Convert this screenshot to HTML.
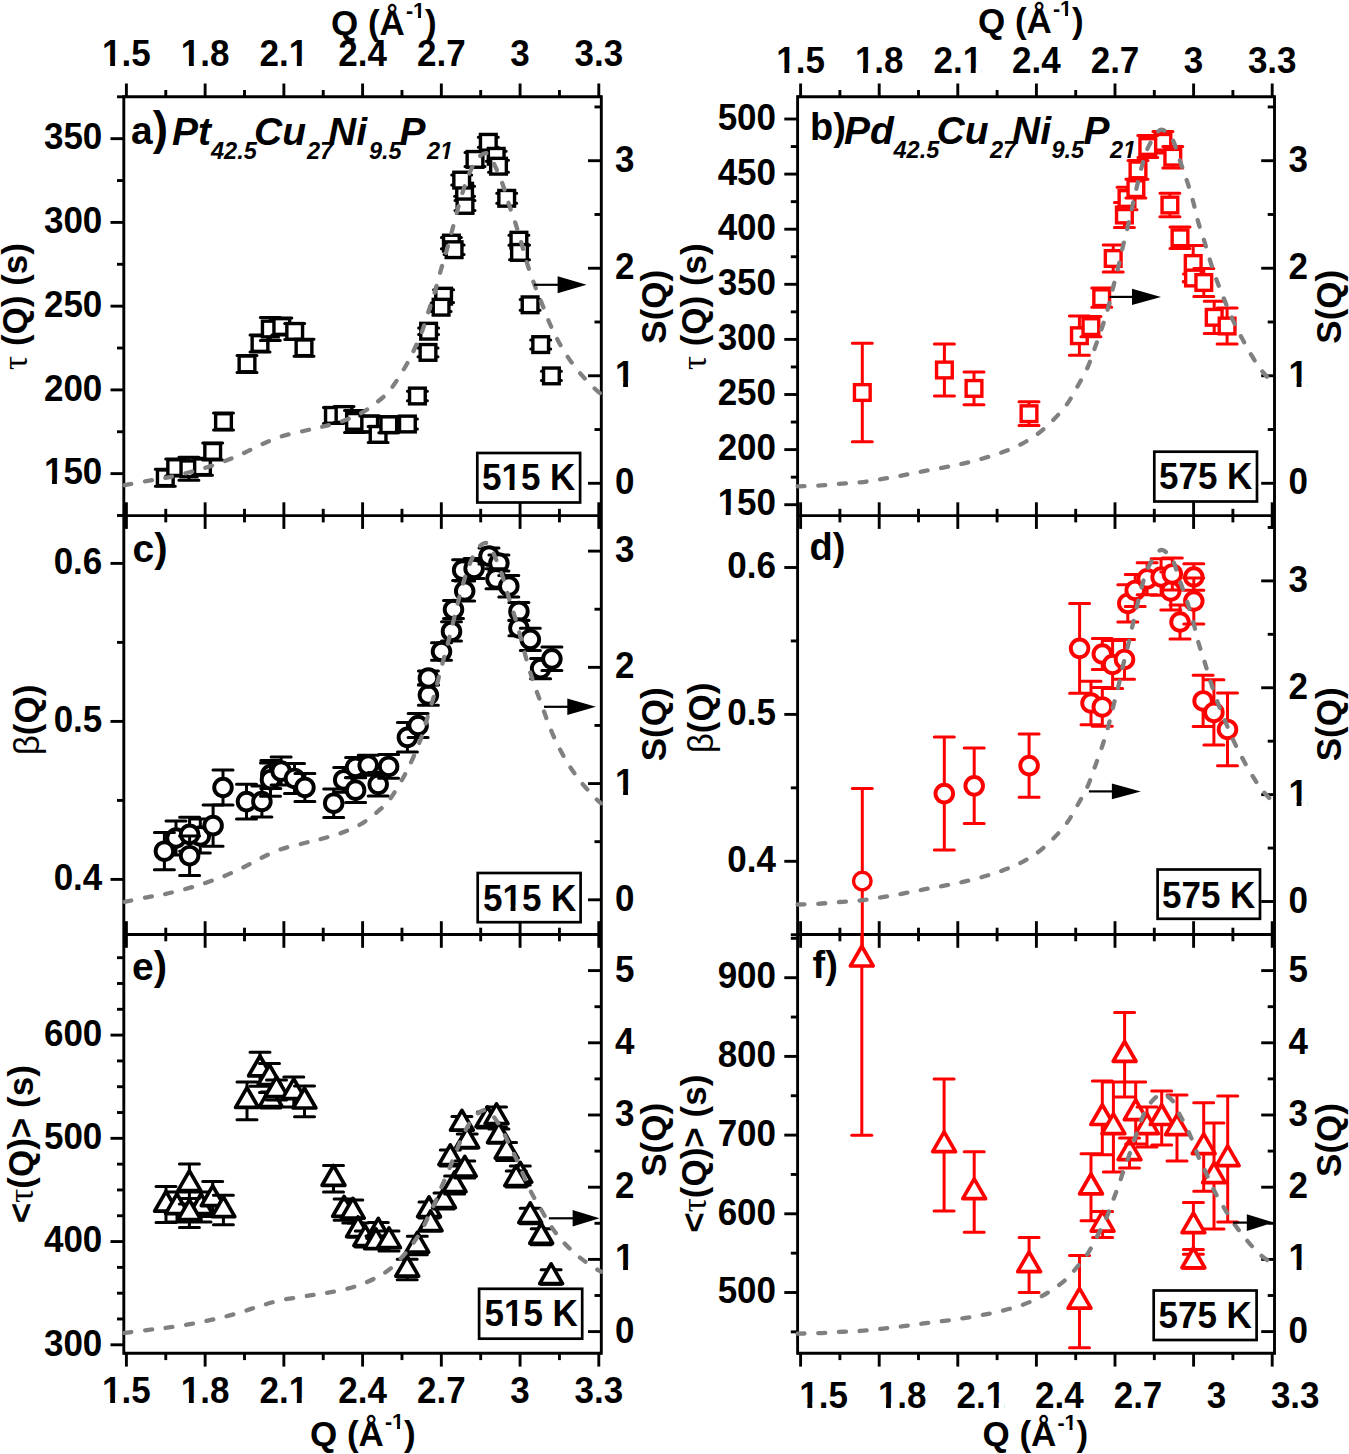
<!DOCTYPE html>
<html><head><meta charset="utf-8"><style>
html,body{margin:0;padding:0;background:#fff;}
svg{display:block;}
text{font-family:"Liberation Sans", sans-serif;fill:#000;}
</style></head><body>
<svg width="1349" height="1454" viewBox="0 0 1349 1454">
<rect x="0" y="0" width="1349" height="1454" fill="#fff"/>
<line x1="123.80" y1="95.35" x2="123.80" y2="1354.75" stroke="#000" stroke-width="2.9"/>
<line x1="601.30" y1="95.35" x2="601.30" y2="1354.75" stroke="#000" stroke-width="2.9"/>
<line x1="123.80" y1="96.80" x2="601.30" y2="96.80" stroke="#000" stroke-width="2.9"/>
<line x1="126.40" y1="83.50" x2="126.40" y2="96.80" stroke="#000" stroke-width="2.9"/>
<line x1="205.13" y1="83.50" x2="205.13" y2="96.80" stroke="#000" stroke-width="2.9"/>
<line x1="283.87" y1="83.50" x2="283.87" y2="96.80" stroke="#000" stroke-width="2.9"/>
<line x1="362.60" y1="83.50" x2="362.60" y2="96.80" stroke="#000" stroke-width="2.9"/>
<line x1="441.33" y1="83.50" x2="441.33" y2="96.80" stroke="#000" stroke-width="2.9"/>
<line x1="520.07" y1="83.50" x2="520.07" y2="96.80" stroke="#000" stroke-width="2.9"/>
<line x1="598.80" y1="83.50" x2="598.80" y2="96.80" stroke="#000" stroke-width="2.9"/>
<line x1="165.77" y1="90.00" x2="165.77" y2="96.80" stroke="#000" stroke-width="2.9"/>
<line x1="244.50" y1="90.00" x2="244.50" y2="96.80" stroke="#000" stroke-width="2.9"/>
<line x1="323.23" y1="90.00" x2="323.23" y2="96.80" stroke="#000" stroke-width="2.9"/>
<line x1="401.97" y1="90.00" x2="401.97" y2="96.80" stroke="#000" stroke-width="2.9"/>
<line x1="480.70" y1="90.00" x2="480.70" y2="96.80" stroke="#000" stroke-width="2.9"/>
<line x1="559.43" y1="90.00" x2="559.43" y2="96.80" stroke="#000" stroke-width="2.9"/>
<line x1="123.80" y1="515.60" x2="601.30" y2="515.60" stroke="#000" stroke-width="2.9"/>
<line x1="126.40" y1="502.30" x2="126.40" y2="528.90" stroke="#000" stroke-width="2.9"/>
<line x1="205.13" y1="502.30" x2="205.13" y2="528.90" stroke="#000" stroke-width="2.9"/>
<line x1="283.87" y1="502.30" x2="283.87" y2="528.90" stroke="#000" stroke-width="2.9"/>
<line x1="362.60" y1="502.30" x2="362.60" y2="528.90" stroke="#000" stroke-width="2.9"/>
<line x1="441.33" y1="502.30" x2="441.33" y2="528.90" stroke="#000" stroke-width="2.9"/>
<line x1="520.07" y1="502.30" x2="520.07" y2="528.90" stroke="#000" stroke-width="2.9"/>
<line x1="598.80" y1="502.30" x2="598.80" y2="528.90" stroke="#000" stroke-width="2.9"/>
<line x1="165.77" y1="508.80" x2="165.77" y2="522.40" stroke="#000" stroke-width="2.9"/>
<line x1="244.50" y1="508.80" x2="244.50" y2="522.40" stroke="#000" stroke-width="2.9"/>
<line x1="323.23" y1="508.80" x2="323.23" y2="522.40" stroke="#000" stroke-width="2.9"/>
<line x1="401.97" y1="508.80" x2="401.97" y2="522.40" stroke="#000" stroke-width="2.9"/>
<line x1="480.70" y1="508.80" x2="480.70" y2="522.40" stroke="#000" stroke-width="2.9"/>
<line x1="559.43" y1="508.80" x2="559.43" y2="522.40" stroke="#000" stroke-width="2.9"/>
<line x1="123.80" y1="934.50" x2="601.30" y2="934.50" stroke="#000" stroke-width="2.9"/>
<line x1="126.40" y1="921.20" x2="126.40" y2="947.80" stroke="#000" stroke-width="2.9"/>
<line x1="205.13" y1="921.20" x2="205.13" y2="947.80" stroke="#000" stroke-width="2.9"/>
<line x1="283.87" y1="921.20" x2="283.87" y2="947.80" stroke="#000" stroke-width="2.9"/>
<line x1="362.60" y1="921.20" x2="362.60" y2="947.80" stroke="#000" stroke-width="2.9"/>
<line x1="441.33" y1="921.20" x2="441.33" y2="947.80" stroke="#000" stroke-width="2.9"/>
<line x1="520.07" y1="921.20" x2="520.07" y2="947.80" stroke="#000" stroke-width="2.9"/>
<line x1="598.80" y1="921.20" x2="598.80" y2="947.80" stroke="#000" stroke-width="2.9"/>
<line x1="165.77" y1="927.70" x2="165.77" y2="941.30" stroke="#000" stroke-width="2.9"/>
<line x1="244.50" y1="927.70" x2="244.50" y2="941.30" stroke="#000" stroke-width="2.9"/>
<line x1="323.23" y1="927.70" x2="323.23" y2="941.30" stroke="#000" stroke-width="2.9"/>
<line x1="401.97" y1="927.70" x2="401.97" y2="941.30" stroke="#000" stroke-width="2.9"/>
<line x1="480.70" y1="927.70" x2="480.70" y2="941.30" stroke="#000" stroke-width="2.9"/>
<line x1="559.43" y1="927.70" x2="559.43" y2="941.30" stroke="#000" stroke-width="2.9"/>
<line x1="123.80" y1="1353.30" x2="601.30" y2="1353.30" stroke="#000" stroke-width="2.9"/>
<line x1="126.40" y1="1353.30" x2="126.40" y2="1366.60" stroke="#000" stroke-width="2.9"/>
<line x1="205.13" y1="1353.30" x2="205.13" y2="1366.60" stroke="#000" stroke-width="2.9"/>
<line x1="283.87" y1="1353.30" x2="283.87" y2="1366.60" stroke="#000" stroke-width="2.9"/>
<line x1="362.60" y1="1353.30" x2="362.60" y2="1366.60" stroke="#000" stroke-width="2.9"/>
<line x1="441.33" y1="1353.30" x2="441.33" y2="1366.60" stroke="#000" stroke-width="2.9"/>
<line x1="520.07" y1="1353.30" x2="520.07" y2="1366.60" stroke="#000" stroke-width="2.9"/>
<line x1="598.80" y1="1353.30" x2="598.80" y2="1366.60" stroke="#000" stroke-width="2.9"/>
<line x1="165.77" y1="1353.30" x2="165.77" y2="1360.10" stroke="#000" stroke-width="2.9"/>
<line x1="244.50" y1="1353.30" x2="244.50" y2="1360.10" stroke="#000" stroke-width="2.9"/>
<line x1="323.23" y1="1353.30" x2="323.23" y2="1360.10" stroke="#000" stroke-width="2.9"/>
<line x1="401.97" y1="1353.30" x2="401.97" y2="1360.10" stroke="#000" stroke-width="2.9"/>
<line x1="480.70" y1="1353.30" x2="480.70" y2="1360.10" stroke="#000" stroke-width="2.9"/>
<line x1="559.43" y1="1353.30" x2="559.43" y2="1360.10" stroke="#000" stroke-width="2.9"/>
<line x1="797.60" y1="95.35" x2="797.60" y2="1354.75" stroke="#000" stroke-width="2.9"/>
<line x1="1274.50" y1="95.35" x2="1274.50" y2="1354.75" stroke="#000" stroke-width="2.9"/>
<line x1="797.60" y1="96.80" x2="1274.50" y2="96.80" stroke="#000" stroke-width="2.9"/>
<line x1="800.60" y1="83.50" x2="800.60" y2="96.80" stroke="#000" stroke-width="2.9"/>
<line x1="879.20" y1="83.50" x2="879.20" y2="96.80" stroke="#000" stroke-width="2.9"/>
<line x1="957.80" y1="83.50" x2="957.80" y2="96.80" stroke="#000" stroke-width="2.9"/>
<line x1="1036.40" y1="83.50" x2="1036.40" y2="96.80" stroke="#000" stroke-width="2.9"/>
<line x1="1115.00" y1="83.50" x2="1115.00" y2="96.80" stroke="#000" stroke-width="2.9"/>
<line x1="1193.60" y1="83.50" x2="1193.60" y2="96.80" stroke="#000" stroke-width="2.9"/>
<line x1="1272.20" y1="83.50" x2="1272.20" y2="96.80" stroke="#000" stroke-width="2.9"/>
<line x1="839.90" y1="90.00" x2="839.90" y2="96.80" stroke="#000" stroke-width="2.9"/>
<line x1="918.50" y1="90.00" x2="918.50" y2="96.80" stroke="#000" stroke-width="2.9"/>
<line x1="997.10" y1="90.00" x2="997.10" y2="96.80" stroke="#000" stroke-width="2.9"/>
<line x1="1075.70" y1="90.00" x2="1075.70" y2="96.80" stroke="#000" stroke-width="2.9"/>
<line x1="1154.30" y1="90.00" x2="1154.30" y2="96.80" stroke="#000" stroke-width="2.9"/>
<line x1="1232.90" y1="90.00" x2="1232.90" y2="96.80" stroke="#000" stroke-width="2.9"/>
<line x1="797.60" y1="515.60" x2="1274.50" y2="515.60" stroke="#000" stroke-width="2.9"/>
<line x1="800.60" y1="502.30" x2="800.60" y2="528.90" stroke="#000" stroke-width="2.9"/>
<line x1="879.20" y1="502.30" x2="879.20" y2="528.90" stroke="#000" stroke-width="2.9"/>
<line x1="957.80" y1="502.30" x2="957.80" y2="528.90" stroke="#000" stroke-width="2.9"/>
<line x1="1036.40" y1="502.30" x2="1036.40" y2="528.90" stroke="#000" stroke-width="2.9"/>
<line x1="1115.00" y1="502.30" x2="1115.00" y2="528.90" stroke="#000" stroke-width="2.9"/>
<line x1="1193.60" y1="502.30" x2="1193.60" y2="528.90" stroke="#000" stroke-width="2.9"/>
<line x1="1272.20" y1="502.30" x2="1272.20" y2="528.90" stroke="#000" stroke-width="2.9"/>
<line x1="839.90" y1="508.80" x2="839.90" y2="522.40" stroke="#000" stroke-width="2.9"/>
<line x1="918.50" y1="508.80" x2="918.50" y2="522.40" stroke="#000" stroke-width="2.9"/>
<line x1="997.10" y1="508.80" x2="997.10" y2="522.40" stroke="#000" stroke-width="2.9"/>
<line x1="1075.70" y1="508.80" x2="1075.70" y2="522.40" stroke="#000" stroke-width="2.9"/>
<line x1="1154.30" y1="508.80" x2="1154.30" y2="522.40" stroke="#000" stroke-width="2.9"/>
<line x1="1232.90" y1="508.80" x2="1232.90" y2="522.40" stroke="#000" stroke-width="2.9"/>
<line x1="797.60" y1="934.50" x2="1274.50" y2="934.50" stroke="#000" stroke-width="2.9"/>
<line x1="800.60" y1="921.20" x2="800.60" y2="947.80" stroke="#000" stroke-width="2.9"/>
<line x1="879.20" y1="921.20" x2="879.20" y2="947.80" stroke="#000" stroke-width="2.9"/>
<line x1="957.80" y1="921.20" x2="957.80" y2="947.80" stroke="#000" stroke-width="2.9"/>
<line x1="1036.40" y1="921.20" x2="1036.40" y2="947.80" stroke="#000" stroke-width="2.9"/>
<line x1="1115.00" y1="921.20" x2="1115.00" y2="947.80" stroke="#000" stroke-width="2.9"/>
<line x1="1193.60" y1="921.20" x2="1193.60" y2="947.80" stroke="#000" stroke-width="2.9"/>
<line x1="1272.20" y1="921.20" x2="1272.20" y2="947.80" stroke="#000" stroke-width="2.9"/>
<line x1="839.90" y1="927.70" x2="839.90" y2="941.30" stroke="#000" stroke-width="2.9"/>
<line x1="918.50" y1="927.70" x2="918.50" y2="941.30" stroke="#000" stroke-width="2.9"/>
<line x1="997.10" y1="927.70" x2="997.10" y2="941.30" stroke="#000" stroke-width="2.9"/>
<line x1="1075.70" y1="927.70" x2="1075.70" y2="941.30" stroke="#000" stroke-width="2.9"/>
<line x1="1154.30" y1="927.70" x2="1154.30" y2="941.30" stroke="#000" stroke-width="2.9"/>
<line x1="1232.90" y1="927.70" x2="1232.90" y2="941.30" stroke="#000" stroke-width="2.9"/>
<line x1="797.60" y1="1353.30" x2="1274.50" y2="1353.30" stroke="#000" stroke-width="2.9"/>
<line x1="800.60" y1="1353.30" x2="800.60" y2="1366.60" stroke="#000" stroke-width="2.9"/>
<line x1="879.20" y1="1353.30" x2="879.20" y2="1366.60" stroke="#000" stroke-width="2.9"/>
<line x1="957.80" y1="1353.30" x2="957.80" y2="1366.60" stroke="#000" stroke-width="2.9"/>
<line x1="1036.40" y1="1353.30" x2="1036.40" y2="1366.60" stroke="#000" stroke-width="2.9"/>
<line x1="1115.00" y1="1353.30" x2="1115.00" y2="1366.60" stroke="#000" stroke-width="2.9"/>
<line x1="1193.60" y1="1353.30" x2="1193.60" y2="1366.60" stroke="#000" stroke-width="2.9"/>
<line x1="1272.20" y1="1353.30" x2="1272.20" y2="1366.60" stroke="#000" stroke-width="2.9"/>
<line x1="839.90" y1="1353.30" x2="839.90" y2="1360.10" stroke="#000" stroke-width="2.9"/>
<line x1="918.50" y1="1353.30" x2="918.50" y2="1360.10" stroke="#000" stroke-width="2.9"/>
<line x1="997.10" y1="1353.30" x2="997.10" y2="1360.10" stroke="#000" stroke-width="2.9"/>
<line x1="1075.70" y1="1353.30" x2="1075.70" y2="1360.10" stroke="#000" stroke-width="2.9"/>
<line x1="1154.30" y1="1353.30" x2="1154.30" y2="1360.10" stroke="#000" stroke-width="2.9"/>
<line x1="1232.90" y1="1353.30" x2="1232.90" y2="1360.10" stroke="#000" stroke-width="2.9"/>
<line x1="117.00" y1="515.50" x2="123.80" y2="515.50" stroke="#000" stroke-width="2.9"/>
<line x1="110.50" y1="473.63" x2="123.80" y2="473.63" stroke="#000" stroke-width="2.9"/>
<line x1="117.00" y1="431.76" x2="123.80" y2="431.76" stroke="#000" stroke-width="2.9"/>
<line x1="110.50" y1="389.89" x2="123.80" y2="389.89" stroke="#000" stroke-width="2.9"/>
<line x1="117.00" y1="348.02" x2="123.80" y2="348.02" stroke="#000" stroke-width="2.9"/>
<line x1="110.50" y1="306.15" x2="123.80" y2="306.15" stroke="#000" stroke-width="2.9"/>
<line x1="117.00" y1="264.28" x2="123.80" y2="264.28" stroke="#000" stroke-width="2.9"/>
<line x1="110.50" y1="222.41" x2="123.80" y2="222.41" stroke="#000" stroke-width="2.9"/>
<line x1="117.00" y1="180.54" x2="123.80" y2="180.54" stroke="#000" stroke-width="2.9"/>
<line x1="110.50" y1="138.67" x2="123.80" y2="138.67" stroke="#000" stroke-width="2.9"/>
<line x1="117.00" y1="96.80" x2="123.80" y2="96.80" stroke="#000" stroke-width="2.9"/>
<text transform="translate(102.30,484.33) scale(1,1.04)" font-size="35" font-weight="bold" text-anchor="end" >150</text>
<rect x="44.78" y="479.39" width="7.25" height="6.04" fill="#fff"/>
<rect x="56.89" y="479.39" width="6.09" height="6.04" fill="#fff"/>
<text transform="translate(102.30,400.59) scale(1,1.04)" font-size="35" font-weight="bold" text-anchor="end" >200</text>
<text transform="translate(102.30,316.85) scale(1,1.04)" font-size="35" font-weight="bold" text-anchor="end" >250</text>
<text transform="translate(102.30,233.11) scale(1,1.04)" font-size="35" font-weight="bold" text-anchor="end" >300</text>
<text transform="translate(102.30,149.37) scale(1,1.04)" font-size="35" font-weight="bold" text-anchor="end" >350</text>
<line x1="588.00" y1="483.30" x2="601.30" y2="483.30" stroke="#000" stroke-width="2.9"/>
<line x1="594.50" y1="429.54" x2="601.30" y2="429.54" stroke="#000" stroke-width="2.9"/>
<line x1="588.00" y1="375.77" x2="601.30" y2="375.77" stroke="#000" stroke-width="2.9"/>
<line x1="594.50" y1="322.00" x2="601.30" y2="322.00" stroke="#000" stroke-width="2.9"/>
<line x1="588.00" y1="268.24" x2="601.30" y2="268.24" stroke="#000" stroke-width="2.9"/>
<line x1="594.50" y1="214.48" x2="601.30" y2="214.48" stroke="#000" stroke-width="2.9"/>
<line x1="588.00" y1="160.71" x2="601.30" y2="160.71" stroke="#000" stroke-width="2.9"/>
<line x1="594.50" y1="106.94" x2="601.30" y2="106.94" stroke="#000" stroke-width="2.9"/>
<text transform="translate(615.00,494.30) scale(1,1.04)" font-size="35" font-weight="bold" text-anchor="start" >0</text>
<text transform="translate(615.00,386.77) scale(1,1.04)" font-size="35" font-weight="bold" text-anchor="start" >1</text>
<rect x="615.88" y="381.83" width="7.25" height="6.04" fill="#fff"/>
<rect x="627.99" y="381.83" width="6.09" height="6.04" fill="#fff"/>
<text transform="translate(615.00,279.24) scale(1,1.04)" font-size="35" font-weight="bold" text-anchor="start" >2</text>
<text transform="translate(615.00,171.71) scale(1,1.04)" font-size="35" font-weight="bold" text-anchor="start" >3</text>
<line x1="784.30" y1="504.70" x2="797.60" y2="504.70" stroke="#000" stroke-width="2.9"/>
<line x1="790.80" y1="477.15" x2="797.60" y2="477.15" stroke="#000" stroke-width="2.9"/>
<line x1="784.30" y1="449.60" x2="797.60" y2="449.60" stroke="#000" stroke-width="2.9"/>
<line x1="790.80" y1="422.05" x2="797.60" y2="422.05" stroke="#000" stroke-width="2.9"/>
<line x1="784.30" y1="394.50" x2="797.60" y2="394.50" stroke="#000" stroke-width="2.9"/>
<line x1="790.80" y1="366.95" x2="797.60" y2="366.95" stroke="#000" stroke-width="2.9"/>
<line x1="784.30" y1="339.40" x2="797.60" y2="339.40" stroke="#000" stroke-width="2.9"/>
<line x1="790.80" y1="311.85" x2="797.60" y2="311.85" stroke="#000" stroke-width="2.9"/>
<line x1="784.30" y1="284.30" x2="797.60" y2="284.30" stroke="#000" stroke-width="2.9"/>
<line x1="790.80" y1="256.75" x2="797.60" y2="256.75" stroke="#000" stroke-width="2.9"/>
<line x1="784.30" y1="229.20" x2="797.60" y2="229.20" stroke="#000" stroke-width="2.9"/>
<line x1="790.80" y1="201.65" x2="797.60" y2="201.65" stroke="#000" stroke-width="2.9"/>
<line x1="784.30" y1="174.10" x2="797.60" y2="174.10" stroke="#000" stroke-width="2.9"/>
<line x1="790.80" y1="146.55" x2="797.60" y2="146.55" stroke="#000" stroke-width="2.9"/>
<line x1="784.30" y1="119.00" x2="797.60" y2="119.00" stroke="#000" stroke-width="2.9"/>
<text transform="translate(776.00,515.40) scale(1,1.04)" font-size="35" font-weight="bold" text-anchor="end" >150</text>
<rect x="718.48" y="510.46" width="7.25" height="6.04" fill="#fff"/>
<rect x="730.59" y="510.46" width="6.09" height="6.04" fill="#fff"/>
<text transform="translate(776.00,460.30) scale(1,1.04)" font-size="35" font-weight="bold" text-anchor="end" >200</text>
<text transform="translate(776.00,405.20) scale(1,1.04)" font-size="35" font-weight="bold" text-anchor="end" >250</text>
<text transform="translate(776.00,350.10) scale(1,1.04)" font-size="35" font-weight="bold" text-anchor="end" >300</text>
<text transform="translate(776.00,295.00) scale(1,1.04)" font-size="35" font-weight="bold" text-anchor="end" >350</text>
<text transform="translate(776.00,239.90) scale(1,1.04)" font-size="35" font-weight="bold" text-anchor="end" >400</text>
<text transform="translate(776.00,184.80) scale(1,1.04)" font-size="35" font-weight="bold" text-anchor="end" >450</text>
<text transform="translate(776.00,129.70) scale(1,1.04)" font-size="35" font-weight="bold" text-anchor="end" >500</text>
<line x1="1261.20" y1="483.30" x2="1274.50" y2="483.30" stroke="#000" stroke-width="2.9"/>
<line x1="1267.70" y1="429.54" x2="1274.50" y2="429.54" stroke="#000" stroke-width="2.9"/>
<line x1="1261.20" y1="375.77" x2="1274.50" y2="375.77" stroke="#000" stroke-width="2.9"/>
<line x1="1267.70" y1="322.00" x2="1274.50" y2="322.00" stroke="#000" stroke-width="2.9"/>
<line x1="1261.20" y1="268.24" x2="1274.50" y2="268.24" stroke="#000" stroke-width="2.9"/>
<line x1="1267.70" y1="214.48" x2="1274.50" y2="214.48" stroke="#000" stroke-width="2.9"/>
<line x1="1261.20" y1="160.71" x2="1274.50" y2="160.71" stroke="#000" stroke-width="2.9"/>
<line x1="1267.70" y1="106.94" x2="1274.50" y2="106.94" stroke="#000" stroke-width="2.9"/>
<text transform="translate(1288.50,494.30) scale(1,1.04)" font-size="35" font-weight="bold" text-anchor="start" >0</text>
<text transform="translate(1288.50,386.77) scale(1,1.04)" font-size="35" font-weight="bold" text-anchor="start" >1</text>
<rect x="1289.38" y="381.83" width="7.25" height="6.04" fill="#fff"/>
<rect x="1301.48" y="381.83" width="6.09" height="6.04" fill="#fff"/>
<text transform="translate(1288.50,279.24) scale(1,1.04)" font-size="35" font-weight="bold" text-anchor="start" >2</text>
<text transform="translate(1288.50,171.71) scale(1,1.04)" font-size="35" font-weight="bold" text-anchor="start" >3</text>
<line x1="110.50" y1="879.40" x2="123.80" y2="879.40" stroke="#000" stroke-width="2.9"/>
<line x1="117.00" y1="800.40" x2="123.80" y2="800.40" stroke="#000" stroke-width="2.9"/>
<line x1="110.50" y1="721.40" x2="123.80" y2="721.40" stroke="#000" stroke-width="2.9"/>
<line x1="117.00" y1="642.40" x2="123.80" y2="642.40" stroke="#000" stroke-width="2.9"/>
<line x1="110.50" y1="563.40" x2="123.80" y2="563.40" stroke="#000" stroke-width="2.9"/>
<text transform="translate(102.30,890.10) scale(1,1.04)" font-size="35" font-weight="bold" text-anchor="end" >0.4</text>
<text transform="translate(102.30,732.10) scale(1,1.04)" font-size="35" font-weight="bold" text-anchor="end" >0.5</text>
<text transform="translate(102.30,574.10) scale(1,1.04)" font-size="35" font-weight="bold" text-anchor="end" >0.6</text>
<line x1="588.00" y1="899.80" x2="601.30" y2="899.80" stroke="#000" stroke-width="2.9"/>
<line x1="594.50" y1="841.68" x2="601.30" y2="841.68" stroke="#000" stroke-width="2.9"/>
<line x1="588.00" y1="783.57" x2="601.30" y2="783.57" stroke="#000" stroke-width="2.9"/>
<line x1="594.50" y1="725.45" x2="601.30" y2="725.45" stroke="#000" stroke-width="2.9"/>
<line x1="588.00" y1="667.34" x2="601.30" y2="667.34" stroke="#000" stroke-width="2.9"/>
<line x1="594.50" y1="609.22" x2="601.30" y2="609.22" stroke="#000" stroke-width="2.9"/>
<line x1="588.00" y1="551.11" x2="601.30" y2="551.11" stroke="#000" stroke-width="2.9"/>
<text transform="translate(615.00,910.80) scale(1,1.04)" font-size="35" font-weight="bold" text-anchor="start" >0</text>
<text transform="translate(615.00,794.57) scale(1,1.04)" font-size="35" font-weight="bold" text-anchor="start" >1</text>
<rect x="615.88" y="789.63" width="7.25" height="6.04" fill="#fff"/>
<rect x="627.99" y="789.63" width="6.09" height="6.04" fill="#fff"/>
<text transform="translate(615.00,678.34) scale(1,1.04)" font-size="35" font-weight="bold" text-anchor="start" >2</text>
<text transform="translate(615.00,562.11) scale(1,1.04)" font-size="35" font-weight="bold" text-anchor="start" >3</text>
<line x1="790.80" y1="934.75" x2="797.60" y2="934.75" stroke="#000" stroke-width="2.9"/>
<line x1="784.30" y1="861.30" x2="797.60" y2="861.30" stroke="#000" stroke-width="2.9"/>
<line x1="790.80" y1="787.85" x2="797.60" y2="787.85" stroke="#000" stroke-width="2.9"/>
<line x1="784.30" y1="714.40" x2="797.60" y2="714.40" stroke="#000" stroke-width="2.9"/>
<line x1="790.80" y1="640.95" x2="797.60" y2="640.95" stroke="#000" stroke-width="2.9"/>
<line x1="784.30" y1="567.50" x2="797.60" y2="567.50" stroke="#000" stroke-width="2.9"/>
<text transform="translate(776.00,872.00) scale(1,1.04)" font-size="35" font-weight="bold" text-anchor="end" >0.4</text>
<text transform="translate(776.00,725.10) scale(1,1.04)" font-size="35" font-weight="bold" text-anchor="end" >0.5</text>
<text transform="translate(776.00,578.20) scale(1,1.04)" font-size="35" font-weight="bold" text-anchor="end" >0.6</text>
<line x1="1261.20" y1="901.50" x2="1274.50" y2="901.50" stroke="#000" stroke-width="2.9"/>
<line x1="1267.70" y1="848.07" x2="1274.50" y2="848.07" stroke="#000" stroke-width="2.9"/>
<line x1="1261.20" y1="794.63" x2="1274.50" y2="794.63" stroke="#000" stroke-width="2.9"/>
<line x1="1267.70" y1="741.19" x2="1274.50" y2="741.19" stroke="#000" stroke-width="2.9"/>
<line x1="1261.20" y1="687.76" x2="1274.50" y2="687.76" stroke="#000" stroke-width="2.9"/>
<line x1="1267.70" y1="634.33" x2="1274.50" y2="634.33" stroke="#000" stroke-width="2.9"/>
<line x1="1261.20" y1="580.89" x2="1274.50" y2="580.89" stroke="#000" stroke-width="2.9"/>
<line x1="1267.70" y1="527.45" x2="1274.50" y2="527.45" stroke="#000" stroke-width="2.9"/>
<text transform="translate(1288.50,912.50) scale(1,1.04)" font-size="35" font-weight="bold" text-anchor="start" >0</text>
<text transform="translate(1288.50,805.63) scale(1,1.04)" font-size="35" font-weight="bold" text-anchor="start" >1</text>
<rect x="1289.38" y="800.69" width="7.25" height="6.04" fill="#fff"/>
<rect x="1301.48" y="800.69" width="6.09" height="6.04" fill="#fff"/>
<text transform="translate(1288.50,698.76) scale(1,1.04)" font-size="35" font-weight="bold" text-anchor="start" >2</text>
<text transform="translate(1288.50,591.89) scale(1,1.04)" font-size="35" font-weight="bold" text-anchor="start" >3</text>
<line x1="110.50" y1="1344.80" x2="123.80" y2="1344.80" stroke="#000" stroke-width="2.9"/>
<line x1="117.00" y1="1318.99" x2="123.80" y2="1318.99" stroke="#000" stroke-width="2.9"/>
<line x1="117.00" y1="1293.18" x2="123.80" y2="1293.18" stroke="#000" stroke-width="2.9"/>
<line x1="117.00" y1="1267.37" x2="123.80" y2="1267.37" stroke="#000" stroke-width="2.9"/>
<line x1="110.50" y1="1241.57" x2="123.80" y2="1241.57" stroke="#000" stroke-width="2.9"/>
<line x1="117.00" y1="1215.76" x2="123.80" y2="1215.76" stroke="#000" stroke-width="2.9"/>
<line x1="117.00" y1="1189.95" x2="123.80" y2="1189.95" stroke="#000" stroke-width="2.9"/>
<line x1="117.00" y1="1164.14" x2="123.80" y2="1164.14" stroke="#000" stroke-width="2.9"/>
<line x1="110.50" y1="1138.33" x2="123.80" y2="1138.33" stroke="#000" stroke-width="2.9"/>
<line x1="117.00" y1="1112.52" x2="123.80" y2="1112.52" stroke="#000" stroke-width="2.9"/>
<line x1="117.00" y1="1086.72" x2="123.80" y2="1086.72" stroke="#000" stroke-width="2.9"/>
<line x1="117.00" y1="1060.91" x2="123.80" y2="1060.91" stroke="#000" stroke-width="2.9"/>
<line x1="110.50" y1="1035.10" x2="123.80" y2="1035.10" stroke="#000" stroke-width="2.9"/>
<line x1="117.00" y1="1009.29" x2="123.80" y2="1009.29" stroke="#000" stroke-width="2.9"/>
<line x1="117.00" y1="983.48" x2="123.80" y2="983.48" stroke="#000" stroke-width="2.9"/>
<line x1="117.00" y1="957.68" x2="123.80" y2="957.68" stroke="#000" stroke-width="2.9"/>
<text transform="translate(102.30,1355.50) scale(1,1.04)" font-size="35" font-weight="bold" text-anchor="end" >300</text>
<text transform="translate(102.30,1252.27) scale(1,1.04)" font-size="35" font-weight="bold" text-anchor="end" >400</text>
<text transform="translate(102.30,1149.03) scale(1,1.04)" font-size="35" font-weight="bold" text-anchor="end" >500</text>
<text transform="translate(102.30,1045.80) scale(1,1.04)" font-size="35" font-weight="bold" text-anchor="end" >600</text>
<line x1="588.00" y1="1331.60" x2="601.30" y2="1331.60" stroke="#000" stroke-width="2.9"/>
<line x1="594.50" y1="1295.50" x2="601.30" y2="1295.50" stroke="#000" stroke-width="2.9"/>
<line x1="588.00" y1="1259.40" x2="601.30" y2="1259.40" stroke="#000" stroke-width="2.9"/>
<line x1="594.50" y1="1223.30" x2="601.30" y2="1223.30" stroke="#000" stroke-width="2.9"/>
<line x1="588.00" y1="1187.20" x2="601.30" y2="1187.20" stroke="#000" stroke-width="2.9"/>
<line x1="594.50" y1="1151.10" x2="601.30" y2="1151.10" stroke="#000" stroke-width="2.9"/>
<line x1="588.00" y1="1115.00" x2="601.30" y2="1115.00" stroke="#000" stroke-width="2.9"/>
<line x1="594.50" y1="1078.90" x2="601.30" y2="1078.90" stroke="#000" stroke-width="2.9"/>
<line x1="588.00" y1="1042.80" x2="601.30" y2="1042.80" stroke="#000" stroke-width="2.9"/>
<line x1="594.50" y1="1006.70" x2="601.30" y2="1006.70" stroke="#000" stroke-width="2.9"/>
<line x1="588.00" y1="970.60" x2="601.30" y2="970.60" stroke="#000" stroke-width="2.9"/>
<line x1="594.50" y1="934.50" x2="601.30" y2="934.50" stroke="#000" stroke-width="2.9"/>
<text transform="translate(615.00,1342.60) scale(1,1.04)" font-size="35" font-weight="bold" text-anchor="start" >0</text>
<text transform="translate(615.00,1270.40) scale(1,1.04)" font-size="35" font-weight="bold" text-anchor="start" >1</text>
<rect x="615.88" y="1265.46" width="7.25" height="6.04" fill="#fff"/>
<rect x="627.99" y="1265.46" width="6.09" height="6.04" fill="#fff"/>
<text transform="translate(615.00,1198.20) scale(1,1.04)" font-size="35" font-weight="bold" text-anchor="start" >2</text>
<text transform="translate(615.00,1126.00) scale(1,1.04)" font-size="35" font-weight="bold" text-anchor="start" >3</text>
<text transform="translate(615.00,1053.80) scale(1,1.04)" font-size="35" font-weight="bold" text-anchor="start" >4</text>
<text transform="translate(615.00,981.60) scale(1,1.04)" font-size="35" font-weight="bold" text-anchor="start" >5</text>
<line x1="790.80" y1="1331.85" x2="797.60" y2="1331.85" stroke="#000" stroke-width="2.9"/>
<line x1="784.30" y1="1292.50" x2="797.60" y2="1292.50" stroke="#000" stroke-width="2.9"/>
<line x1="790.80" y1="1253.15" x2="797.60" y2="1253.15" stroke="#000" stroke-width="2.9"/>
<line x1="784.30" y1="1213.80" x2="797.60" y2="1213.80" stroke="#000" stroke-width="2.9"/>
<line x1="790.80" y1="1174.45" x2="797.60" y2="1174.45" stroke="#000" stroke-width="2.9"/>
<line x1="784.30" y1="1135.10" x2="797.60" y2="1135.10" stroke="#000" stroke-width="2.9"/>
<line x1="790.80" y1="1095.75" x2="797.60" y2="1095.75" stroke="#000" stroke-width="2.9"/>
<line x1="784.30" y1="1056.40" x2="797.60" y2="1056.40" stroke="#000" stroke-width="2.9"/>
<line x1="790.80" y1="1017.05" x2="797.60" y2="1017.05" stroke="#000" stroke-width="2.9"/>
<line x1="784.30" y1="977.70" x2="797.60" y2="977.70" stroke="#000" stroke-width="2.9"/>
<line x1="790.80" y1="938.35" x2="797.60" y2="938.35" stroke="#000" stroke-width="2.9"/>
<text transform="translate(776.00,1303.20) scale(1,1.04)" font-size="35" font-weight="bold" text-anchor="end" >500</text>
<text transform="translate(776.00,1224.50) scale(1,1.04)" font-size="35" font-weight="bold" text-anchor="end" >600</text>
<text transform="translate(776.00,1145.80) scale(1,1.04)" font-size="35" font-weight="bold" text-anchor="end" >700</text>
<text transform="translate(776.00,1067.10) scale(1,1.04)" font-size="35" font-weight="bold" text-anchor="end" >800</text>
<text transform="translate(776.00,988.40) scale(1,1.04)" font-size="35" font-weight="bold" text-anchor="end" >900</text>
<line x1="1261.20" y1="1331.60" x2="1274.50" y2="1331.60" stroke="#000" stroke-width="2.9"/>
<line x1="1267.70" y1="1295.50" x2="1274.50" y2="1295.50" stroke="#000" stroke-width="2.9"/>
<line x1="1261.20" y1="1259.40" x2="1274.50" y2="1259.40" stroke="#000" stroke-width="2.9"/>
<line x1="1267.70" y1="1223.30" x2="1274.50" y2="1223.30" stroke="#000" stroke-width="2.9"/>
<line x1="1261.20" y1="1187.20" x2="1274.50" y2="1187.20" stroke="#000" stroke-width="2.9"/>
<line x1="1267.70" y1="1151.10" x2="1274.50" y2="1151.10" stroke="#000" stroke-width="2.9"/>
<line x1="1261.20" y1="1115.00" x2="1274.50" y2="1115.00" stroke="#000" stroke-width="2.9"/>
<line x1="1267.70" y1="1078.90" x2="1274.50" y2="1078.90" stroke="#000" stroke-width="2.9"/>
<line x1="1261.20" y1="1042.80" x2="1274.50" y2="1042.80" stroke="#000" stroke-width="2.9"/>
<line x1="1267.70" y1="1006.70" x2="1274.50" y2="1006.70" stroke="#000" stroke-width="2.9"/>
<line x1="1261.20" y1="970.60" x2="1274.50" y2="970.60" stroke="#000" stroke-width="2.9"/>
<line x1="1267.70" y1="934.50" x2="1274.50" y2="934.50" stroke="#000" stroke-width="2.9"/>
<text transform="translate(1288.50,1342.60) scale(1,1.04)" font-size="35" font-weight="bold" text-anchor="start" >0</text>
<text transform="translate(1288.50,1270.40) scale(1,1.04)" font-size="35" font-weight="bold" text-anchor="start" >1</text>
<rect x="1289.38" y="1265.46" width="7.25" height="6.04" fill="#fff"/>
<rect x="1301.48" y="1265.46" width="6.09" height="6.04" fill="#fff"/>
<text transform="translate(1288.50,1198.20) scale(1,1.04)" font-size="35" font-weight="bold" text-anchor="start" >2</text>
<text transform="translate(1288.50,1126.00) scale(1,1.04)" font-size="35" font-weight="bold" text-anchor="start" >3</text>
<text transform="translate(1288.50,1053.80) scale(1,1.04)" font-size="35" font-weight="bold" text-anchor="start" >4</text>
<text transform="translate(1288.50,981.60) scale(1,1.04)" font-size="35" font-weight="bold" text-anchor="start" >5</text>
<text transform="translate(126.40,66.30) scale(1,1.04)" font-size="35" font-weight="bold" text-anchor="middle" >1.5</text>
<rect x="102.95" y="61.36" width="7.25" height="6.04" fill="#fff"/>
<rect x="115.06" y="61.36" width="6.09" height="6.04" fill="#fff"/>
<text transform="translate(800.60,73.00) scale(1,1.04)" font-size="35" font-weight="bold" text-anchor="middle" >1.5</text>
<rect x="777.15" y="68.06" width="7.25" height="6.04" fill="#fff"/>
<rect x="789.26" y="68.06" width="6.09" height="6.04" fill="#fff"/>
<text transform="translate(126.40,1402.80) scale(1,1.04)" font-size="35" font-weight="bold" text-anchor="middle" >1.5</text>
<rect x="102.95" y="1397.86" width="7.25" height="6.04" fill="#fff"/>
<rect x="115.06" y="1397.86" width="6.09" height="6.04" fill="#fff"/>
<text transform="translate(823.60,1407.80) scale(1,1.04)" font-size="35" font-weight="bold" text-anchor="middle" >1.5</text>
<rect x="800.15" y="1402.86" width="7.25" height="6.04" fill="#fff"/>
<rect x="812.26" y="1402.86" width="6.09" height="6.04" fill="#fff"/>
<text transform="translate(205.13,66.30) scale(1,1.04)" font-size="35" font-weight="bold" text-anchor="middle" >1.8</text>
<rect x="181.68" y="61.36" width="7.25" height="6.04" fill="#fff"/>
<rect x="193.79" y="61.36" width="6.09" height="6.04" fill="#fff"/>
<text transform="translate(879.20,73.00) scale(1,1.04)" font-size="35" font-weight="bold" text-anchor="middle" >1.8</text>
<rect x="855.75" y="68.06" width="7.25" height="6.04" fill="#fff"/>
<rect x="867.86" y="68.06" width="6.09" height="6.04" fill="#fff"/>
<text transform="translate(205.13,1402.80) scale(1,1.04)" font-size="35" font-weight="bold" text-anchor="middle" >1.8</text>
<rect x="181.68" y="1397.86" width="7.25" height="6.04" fill="#fff"/>
<rect x="193.79" y="1397.86" width="6.09" height="6.04" fill="#fff"/>
<text transform="translate(902.20,1407.80) scale(1,1.04)" font-size="35" font-weight="bold" text-anchor="middle" >1.8</text>
<rect x="878.75" y="1402.86" width="7.25" height="6.04" fill="#fff"/>
<rect x="890.86" y="1402.86" width="6.09" height="6.04" fill="#fff"/>
<text transform="translate(283.87,66.30) scale(1,1.04)" font-size="35" font-weight="bold" text-anchor="middle" >2.1</text>
<rect x="289.60" y="61.36" width="7.25" height="6.04" fill="#fff"/>
<rect x="301.71" y="61.36" width="6.09" height="6.04" fill="#fff"/>
<text transform="translate(957.80,73.00) scale(1,1.04)" font-size="35" font-weight="bold" text-anchor="middle" >2.1</text>
<rect x="963.54" y="68.06" width="7.25" height="6.04" fill="#fff"/>
<rect x="975.65" y="68.06" width="6.09" height="6.04" fill="#fff"/>
<text transform="translate(283.87,1402.80) scale(1,1.04)" font-size="35" font-weight="bold" text-anchor="middle" >2.1</text>
<rect x="289.60" y="1397.86" width="7.25" height="6.04" fill="#fff"/>
<rect x="301.71" y="1397.86" width="6.09" height="6.04" fill="#fff"/>
<text transform="translate(980.80,1407.80) scale(1,1.04)" font-size="35" font-weight="bold" text-anchor="middle" >2.1</text>
<rect x="986.54" y="1402.86" width="7.25" height="6.04" fill="#fff"/>
<rect x="998.65" y="1402.86" width="6.09" height="6.04" fill="#fff"/>
<text transform="translate(362.60,66.30) scale(1,1.04)" font-size="35" font-weight="bold" text-anchor="middle" >2.4</text>
<text transform="translate(1036.40,73.00) scale(1,1.04)" font-size="35" font-weight="bold" text-anchor="middle" >2.4</text>
<text transform="translate(362.60,1402.80) scale(1,1.04)" font-size="35" font-weight="bold" text-anchor="middle" >2.4</text>
<text transform="translate(1059.40,1407.80) scale(1,1.04)" font-size="35" font-weight="bold" text-anchor="middle" >2.4</text>
<text transform="translate(441.33,66.30) scale(1,1.04)" font-size="35" font-weight="bold" text-anchor="middle" >2.7</text>
<text transform="translate(1115.00,73.00) scale(1,1.04)" font-size="35" font-weight="bold" text-anchor="middle" >2.7</text>
<text transform="translate(441.33,1402.80) scale(1,1.04)" font-size="35" font-weight="bold" text-anchor="middle" >2.7</text>
<text transform="translate(1138.00,1407.80) scale(1,1.04)" font-size="35" font-weight="bold" text-anchor="middle" >2.7</text>
<text transform="translate(520.07,66.30) scale(1,1.04)" font-size="35" font-weight="bold" text-anchor="middle" >3</text>
<text transform="translate(1193.60,73.00) scale(1,1.04)" font-size="35" font-weight="bold" text-anchor="middle" >3</text>
<text transform="translate(520.07,1402.80) scale(1,1.04)" font-size="35" font-weight="bold" text-anchor="middle" >3</text>
<text transform="translate(1216.60,1407.80) scale(1,1.04)" font-size="35" font-weight="bold" text-anchor="middle" >3</text>
<text transform="translate(598.80,66.30) scale(1,1.04)" font-size="35" font-weight="bold" text-anchor="middle" >3.3</text>
<text transform="translate(1272.20,73.00) scale(1,1.04)" font-size="35" font-weight="bold" text-anchor="middle" >3.3</text>
<text transform="translate(598.80,1402.80) scale(1,1.04)" font-size="35" font-weight="bold" text-anchor="middle" >3.3</text>
<text transform="translate(1295.20,1407.80) scale(1,1.04)" font-size="35" font-weight="bold" text-anchor="middle" >3.3</text>
<text x="331.00" y="34.70" font-size="35" font-weight="bold">Q (Å<tspan font-size="21.5" dx="1" dy="-16.8">-1</tspan><tspan dx="0" dy="16.8">)</tspan></text>
<rect x="413.57" y="14.45" width="4.45" height="4.55" fill="#fff"/>
<rect x="421.01" y="14.45" width="3.74" height="4.55" fill="#fff"/>
<text x="978.00" y="32.70" font-size="35" font-weight="bold">Q (Å<tspan font-size="21.5" dx="1" dy="-16.8">-1</tspan><tspan dx="0" dy="16.8">)</tspan></text>
<rect x="1060.57" y="12.45" width="4.45" height="4.55" fill="#fff"/>
<rect x="1068.01" y="12.45" width="3.74" height="4.55" fill="#fff"/>
<text x="310.00" y="1445.60" font-size="35" font-weight="bold">Q (Å<tspan font-size="21.5" dx="1" dy="-16.8">-1</tspan><tspan dx="0" dy="16.8">)</tspan></text>
<rect x="392.57" y="1425.35" width="4.45" height="4.55" fill="#fff"/>
<rect x="400.01" y="1425.35" width="3.74" height="4.55" fill="#fff"/>
<text x="982.50" y="1446.40" font-size="35" font-weight="bold">Q (Å<tspan font-size="21.5" dx="1" dy="-16.8">-1</tspan><tspan dx="0" dy="16.8">)</tspan></text>
<rect x="1065.07" y="1426.15" width="4.45" height="4.55" fill="#fff"/>
<rect x="1072.51" y="1426.15" width="3.74" height="4.55" fill="#fff"/>
<text transform="translate(27.00,306.50) rotate(-90)" x="0" y="0" font-size="35" font-weight="bold" text-anchor="middle"><tspan font-weight="normal" font-family="Liberation Serif">τ</tspan> (Q) (s)</text>
<text transform="translate(705.50,306.70) rotate(-90)" x="0" y="0" font-size="35" font-weight="bold" text-anchor="middle"><tspan font-weight="normal" font-family="Liberation Serif">τ</tspan> (Q) (s)</text>
<text transform="translate(38.50,720.00) rotate(-90)" x="0" y="0" font-size="35" font-weight="bold" text-anchor="middle"><tspan font-weight="normal">β</tspan>(Q)</text>
<text transform="translate(712.50,718.00) rotate(-90)" x="0" y="0" font-size="35" font-weight="bold" text-anchor="middle"><tspan font-weight="normal">β</tspan>(Q)</text>
<text transform="translate(32.60,1144.20) rotate(-90)" x="0" y="0" font-size="35" font-weight="bold" text-anchor="middle">&lt;<tspan font-weight="normal" font-family="Liberation Serif">τ</tspan>(Q)&gt; (s)</text>
<text transform="translate(705.80,1153.70) rotate(-90)" x="0" y="0" font-size="35" font-weight="bold" text-anchor="middle">&lt;<tspan font-weight="normal" font-family="Liberation Serif">τ</tspan>(Q)&gt; (s)</text>
<text transform="translate(665.50,306.70) rotate(-90)" x="0" y="0" font-size="35" font-weight="bold" text-anchor="middle">S(Q)</text>
<text transform="translate(1340.50,306.70) rotate(-90)" x="0" y="0" font-size="35" font-weight="bold" text-anchor="middle">S(Q)</text>
<text transform="translate(665.50,724.40) rotate(-90)" x="0" y="0" font-size="35" font-weight="bold" text-anchor="middle">S(Q)</text>
<text transform="translate(1340.50,724.40) rotate(-90)" x="0" y="0" font-size="35" font-weight="bold" text-anchor="middle">S(Q)</text>
<text transform="translate(665.50,1139.90) rotate(-90)" x="0" y="0" font-size="35" font-weight="bold" text-anchor="middle">S(Q)</text>
<text transform="translate(1340.50,1140.00) rotate(-90)" x="0" y="0" font-size="35" font-weight="bold" text-anchor="middle">S(Q)</text>
<line x1="165.30" y1="469.30" x2="165.30" y2="469.95" stroke="#000" stroke-width="3.0"/>
<line x1="165.30" y1="485.65" x2="165.30" y2="486.30" stroke="#000" stroke-width="3.0"/>
<path d="M155.30,469.30H175.30M155.30,486.30H175.30" stroke="#000" stroke-width="3.0" stroke-linecap="round"/>
<rect x="157.45" y="469.95" width="15.70" height="15.70" fill="#fff" stroke="#000" stroke-width="3.4"/>
<line x1="175.70" y1="459.10" x2="175.70" y2="459.75" stroke="#000" stroke-width="3.0"/>
<line x1="175.70" y1="475.45" x2="175.70" y2="476.10" stroke="#000" stroke-width="3.0"/>
<path d="M165.70,459.10H185.70M165.70,476.10H185.70" stroke="#000" stroke-width="3.0" stroke-linecap="round"/>
<rect x="167.85" y="459.75" width="15.70" height="15.70" fill="#fff" stroke="#000" stroke-width="3.4"/>
<line x1="188.90" y1="457.30" x2="188.90" y2="460.95" stroke="#000" stroke-width="3.0"/>
<line x1="188.90" y1="476.65" x2="188.90" y2="480.30" stroke="#000" stroke-width="3.0"/>
<path d="M178.90,457.30H198.90M178.90,480.30H198.90" stroke="#000" stroke-width="3.0" stroke-linecap="round"/>
<rect x="181.05" y="460.95" width="15.70" height="15.70" fill="#fff" stroke="#000" stroke-width="3.4"/>
<line x1="202.50" y1="458.30" x2="202.50" y2="458.95" stroke="#000" stroke-width="3.0"/>
<line x1="202.50" y1="474.65" x2="202.50" y2="475.30" stroke="#000" stroke-width="3.0"/>
<path d="M192.50,458.30H212.50M192.50,475.30H212.50" stroke="#000" stroke-width="3.0" stroke-linecap="round"/>
<rect x="194.65" y="458.95" width="15.70" height="15.70" fill="#fff" stroke="#000" stroke-width="3.4"/>
<line x1="212.70" y1="442.90" x2="212.70" y2="443.55" stroke="#000" stroke-width="3.0"/>
<line x1="212.70" y1="459.25" x2="212.70" y2="459.90" stroke="#000" stroke-width="3.0"/>
<path d="M202.70,442.90H222.70M202.70,459.90H222.70" stroke="#000" stroke-width="3.0" stroke-linecap="round"/>
<rect x="204.85" y="443.55" width="15.70" height="15.70" fill="#fff" stroke="#000" stroke-width="3.4"/>
<line x1="223.50" y1="413.10" x2="223.50" y2="413.75" stroke="#000" stroke-width="3.0"/>
<line x1="223.50" y1="429.45" x2="223.50" y2="430.10" stroke="#000" stroke-width="3.0"/>
<path d="M213.50,413.10H233.50M213.50,430.10H233.50" stroke="#000" stroke-width="3.0" stroke-linecap="round"/>
<rect x="215.65" y="413.75" width="15.70" height="15.70" fill="#fff" stroke="#000" stroke-width="3.4"/>
<line x1="247.00" y1="355.40" x2="247.00" y2="356.05" stroke="#000" stroke-width="3.0"/>
<line x1="247.00" y1="371.75" x2="247.00" y2="372.40" stroke="#000" stroke-width="3.0"/>
<path d="M237.00,355.40H257.00M237.00,372.40H257.00" stroke="#000" stroke-width="3.0" stroke-linecap="round"/>
<rect x="239.15" y="356.05" width="15.70" height="15.70" fill="#fff" stroke="#000" stroke-width="3.4"/>
<line x1="260.00" y1="335.00" x2="260.00" y2="335.65" stroke="#000" stroke-width="3.0"/>
<line x1="260.00" y1="351.35" x2="260.00" y2="352.00" stroke="#000" stroke-width="3.0"/>
<path d="M250.00,335.00H270.00M250.00,352.00H270.00" stroke="#000" stroke-width="3.0" stroke-linecap="round"/>
<rect x="252.15" y="335.65" width="15.70" height="15.70" fill="#fff" stroke="#000" stroke-width="3.4"/>
<line x1="270.30" y1="317.50" x2="270.30" y2="321.15" stroke="#000" stroke-width="3.0"/>
<line x1="270.30" y1="336.85" x2="270.30" y2="340.50" stroke="#000" stroke-width="3.0"/>
<path d="M260.30,317.50H280.30M260.30,340.50H280.30" stroke="#000" stroke-width="3.0" stroke-linecap="round"/>
<rect x="262.45" y="321.15" width="15.70" height="15.70" fill="#fff" stroke="#000" stroke-width="3.4"/>
<line x1="281.80" y1="318.00" x2="281.80" y2="318.65" stroke="#000" stroke-width="3.0"/>
<line x1="281.80" y1="334.35" x2="281.80" y2="335.00" stroke="#000" stroke-width="3.0"/>
<path d="M271.80,318.00H291.80M271.80,335.00H291.80" stroke="#000" stroke-width="3.0" stroke-linecap="round"/>
<rect x="273.95" y="318.65" width="15.70" height="15.70" fill="#fff" stroke="#000" stroke-width="3.4"/>
<line x1="294.70" y1="323.40" x2="294.70" y2="323.55" stroke="#000" stroke-width="3.0"/>
<line x1="294.70" y1="339.25" x2="294.70" y2="339.40" stroke="#000" stroke-width="3.0"/>
<path d="M284.70,323.40H304.70M284.70,339.40H304.70" stroke="#000" stroke-width="3.0" stroke-linecap="round"/>
<rect x="286.85" y="323.55" width="15.70" height="15.70" fill="#fff" stroke="#000" stroke-width="3.4"/>
<line x1="304.00" y1="339.30" x2="304.00" y2="339.95" stroke="#000" stroke-width="3.0"/>
<line x1="304.00" y1="355.65" x2="304.00" y2="356.30" stroke="#000" stroke-width="3.0"/>
<path d="M294.00,339.30H314.00M294.00,356.30H314.00" stroke="#000" stroke-width="3.0" stroke-linecap="round"/>
<rect x="296.15" y="339.95" width="15.70" height="15.70" fill="#fff" stroke="#000" stroke-width="3.4"/>
<line x1="333.40" y1="407.40" x2="333.40" y2="407.55" stroke="#000" stroke-width="3.0"/>
<line x1="333.40" y1="423.25" x2="333.40" y2="423.40" stroke="#000" stroke-width="3.0"/>
<path d="M323.40,407.40H343.40M323.40,423.40H343.40" stroke="#000" stroke-width="3.0" stroke-linecap="round"/>
<rect x="325.55" y="407.55" width="15.70" height="15.70" fill="#fff" stroke="#000" stroke-width="3.4"/>
<line x1="344.00" y1="406.50" x2="344.00" y2="406.65" stroke="#000" stroke-width="3.0"/>
<line x1="344.00" y1="422.35" x2="344.00" y2="422.50" stroke="#000" stroke-width="3.0"/>
<path d="M334.00,406.50H354.00M334.00,422.50H354.00" stroke="#000" stroke-width="3.0" stroke-linecap="round"/>
<rect x="336.15" y="406.65" width="15.70" height="15.70" fill="#fff" stroke="#000" stroke-width="3.4"/>
<line x1="354.50" y1="410.40" x2="354.50" y2="413.55" stroke="#000" stroke-width="3.0"/>
<line x1="354.50" y1="429.25" x2="354.50" y2="432.40" stroke="#000" stroke-width="3.0"/>
<path d="M344.50,410.40H364.50M344.50,432.40H364.50" stroke="#000" stroke-width="3.0" stroke-linecap="round"/>
<rect x="346.65" y="413.55" width="15.70" height="15.70" fill="#fff" stroke="#000" stroke-width="3.4"/>
<line x1="369.70" y1="416.00" x2="369.70" y2="416.15" stroke="#000" stroke-width="3.0"/>
<line x1="369.70" y1="431.85" x2="369.70" y2="432.00" stroke="#000" stroke-width="3.0"/>
<path d="M359.70,416.00H379.70M359.70,432.00H379.70" stroke="#000" stroke-width="3.0" stroke-linecap="round"/>
<rect x="361.85" y="416.15" width="15.70" height="15.70" fill="#fff" stroke="#000" stroke-width="3.4"/>
<line x1="378.10" y1="426.40" x2="378.10" y2="426.55" stroke="#000" stroke-width="3.0"/>
<line x1="378.10" y1="442.25" x2="378.10" y2="442.40" stroke="#000" stroke-width="3.0"/>
<path d="M368.10,426.40H388.10M368.10,442.40H388.10" stroke="#000" stroke-width="3.0" stroke-linecap="round"/>
<rect x="370.25" y="426.55" width="15.70" height="15.70" fill="#fff" stroke="#000" stroke-width="3.4"/>
<line x1="388.80" y1="416.70" x2="388.80" y2="416.85" stroke="#000" stroke-width="3.0"/>
<line x1="388.80" y1="432.55" x2="388.80" y2="432.70" stroke="#000" stroke-width="3.0"/>
<path d="M378.80,416.70H398.80M378.80,432.70H398.80" stroke="#000" stroke-width="3.0" stroke-linecap="round"/>
<rect x="380.95" y="416.85" width="15.70" height="15.70" fill="#fff" stroke="#000" stroke-width="3.4"/>
<path d="M397.40,419.00H417.40M397.40,429.00H417.40" stroke="#000" stroke-width="3.0" stroke-linecap="round"/>
<rect x="399.55" y="416.15" width="15.70" height="15.70" fill="#fff" stroke="#000" stroke-width="3.4"/>
<path d="M407.40,391.30H427.40M407.40,400.70H427.40" stroke="#000" stroke-width="3.0" stroke-linecap="round"/>
<rect x="409.55" y="388.15" width="15.70" height="15.70" fill="#fff" stroke="#000" stroke-width="3.4"/>
<path d="M418.00,348.00H438.00M418.00,356.80H438.00" stroke="#000" stroke-width="3.0" stroke-linecap="round"/>
<rect x="420.15" y="344.55" width="15.70" height="15.70" fill="#fff" stroke="#000" stroke-width="3.4"/>
<path d="M418.60,328.00H438.60M418.60,334.40H438.60" stroke="#000" stroke-width="3.0" stroke-linecap="round"/>
<rect x="420.75" y="323.35" width="15.70" height="15.70" fill="#fff" stroke="#000" stroke-width="3.4"/>
<path d="M433.60,289.80H453.60M433.60,302.60H453.60" stroke="#000" stroke-width="3.0" stroke-linecap="round"/>
<rect x="435.75" y="288.35" width="15.70" height="15.70" fill="#fff" stroke="#000" stroke-width="3.4"/>
<path d="M431.10,303.00H451.10M431.10,311.40H451.10" stroke="#000" stroke-width="3.0" stroke-linecap="round"/>
<rect x="433.25" y="299.35" width="15.70" height="15.70" fill="#fff" stroke="#000" stroke-width="3.4"/>
<path d="M441.40,237.50H461.40M441.40,248.70H461.40" stroke="#000" stroke-width="3.0" stroke-linecap="round"/>
<rect x="443.55" y="235.25" width="15.70" height="15.70" fill="#fff" stroke="#000" stroke-width="3.4"/>
<path d="M444.10,245.00H464.10M444.10,254.40H464.10" stroke="#000" stroke-width="3.0" stroke-linecap="round"/>
<rect x="446.25" y="241.85" width="15.70" height="15.70" fill="#fff" stroke="#000" stroke-width="3.4"/>
<path d="M455.00,200.40H475.00M455.00,210.40H475.00" stroke="#000" stroke-width="3.0" stroke-linecap="round"/>
<rect x="457.15" y="197.55" width="15.70" height="15.70" fill="#fff" stroke="#000" stroke-width="3.4"/>
<path d="M454.60,186.20H474.60M454.60,196.20H474.60" stroke="#000" stroke-width="3.0" stroke-linecap="round"/>
<rect x="456.75" y="183.35" width="15.70" height="15.70" fill="#fff" stroke="#000" stroke-width="3.4"/>
<path d="M451.70,175.10H471.70M451.70,185.10H471.70" stroke="#000" stroke-width="3.0" stroke-linecap="round"/>
<rect x="453.85" y="172.25" width="15.70" height="15.70" fill="#fff" stroke="#000" stroke-width="3.4"/>
<path d="M465.00,152.40H485.00M465.00,166.40H485.00" stroke="#000" stroke-width="3.0" stroke-linecap="round"/>
<rect x="467.15" y="151.55" width="15.70" height="15.70" fill="#fff" stroke="#000" stroke-width="3.4"/>
<path d="M478.30,137.30H498.30M478.30,147.30H498.30" stroke="#000" stroke-width="3.0" stroke-linecap="round"/>
<rect x="480.45" y="134.45" width="15.70" height="15.70" fill="#fff" stroke="#000" stroke-width="3.4"/>
<path d="M486.20,151.30H506.20M486.20,161.30H506.20" stroke="#000" stroke-width="3.0" stroke-linecap="round"/>
<rect x="488.35" y="148.45" width="15.70" height="15.70" fill="#fff" stroke="#000" stroke-width="3.4"/>
<path d="M488.50,160.20H508.50M488.50,172.20H508.50" stroke="#000" stroke-width="3.0" stroke-linecap="round"/>
<rect x="490.65" y="158.35" width="15.70" height="15.70" fill="#fff" stroke="#000" stroke-width="3.4"/>
<path d="M496.70,193.30H516.70M496.70,203.30H516.70" stroke="#000" stroke-width="3.0" stroke-linecap="round"/>
<rect x="498.85" y="190.45" width="15.70" height="15.70" fill="#fff" stroke="#000" stroke-width="3.4"/>
<path d="M508.90,235.20H528.90M508.90,245.20H528.90" stroke="#000" stroke-width="3.0" stroke-linecap="round"/>
<rect x="511.05" y="232.35" width="15.70" height="15.70" fill="#fff" stroke="#000" stroke-width="3.4"/>
<path d="M509.50,245.00H529.50M509.50,259.80H529.50" stroke="#000" stroke-width="3.0" stroke-linecap="round"/>
<rect x="511.65" y="244.55" width="15.70" height="15.70" fill="#fff" stroke="#000" stroke-width="3.4"/>
<path d="M520.10,299.40H540.10M520.10,310.20H540.10" stroke="#000" stroke-width="3.0" stroke-linecap="round"/>
<rect x="522.25" y="296.95" width="15.70" height="15.70" fill="#fff" stroke="#000" stroke-width="3.4"/>
<path d="M530.70,340.10H550.70M530.70,349.10H550.70" stroke="#000" stroke-width="3.0" stroke-linecap="round"/>
<rect x="532.85" y="336.75" width="15.70" height="15.70" fill="#fff" stroke="#000" stroke-width="3.4"/>
<path d="M541.40,371.20H561.40M541.40,380.60H561.40" stroke="#000" stroke-width="3.0" stroke-linecap="round"/>
<rect x="543.55" y="368.05" width="15.70" height="15.70" fill="#fff" stroke="#000" stroke-width="3.4"/>
<path d="M124.50,485.20 C128.25,484.50 140.25,482.20 147.00,481.00 C153.75,479.80 158.58,479.28 165.00,478.00 C171.42,476.72 178.75,475.02 185.50,473.30 C192.25,471.58 199.00,469.72 205.50,467.70 C212.00,465.68 218.17,463.62 224.50,461.20 C230.83,458.78 237.42,455.95 243.50,453.20 C249.58,450.45 254.75,447.48 261.00,444.70 C267.25,441.92 273.90,438.78 281.00,436.50 C288.10,434.22 296.77,432.62 303.60,431.00 C310.43,429.38 315.68,428.40 322.00,426.80 C328.32,425.20 335.05,423.63 341.50,421.40 C347.95,419.17 354.73,416.63 360.70,413.40 C366.67,410.17 372.42,405.90 377.30,402.00 C382.18,398.10 385.55,395.50 390.00,390.00 C394.45,384.50 400.08,375.50 404.00,369.00 C407.92,362.50 410.50,357.27 413.50,351.00 C416.50,344.73 419.53,337.90 422.00,331.40 C424.47,324.90 426.17,318.57 428.30,312.00 C430.43,305.43 432.80,298.67 434.80,292.00 C436.80,285.33 438.40,278.67 440.30,272.00 C442.20,265.33 444.30,258.67 446.20,252.00 C448.10,245.33 449.93,238.58 451.70,232.00 C453.47,225.42 454.97,219.13 456.80,212.50 C458.63,205.87 460.58,198.78 462.70,192.20 C464.82,185.62 466.95,178.70 469.50,173.00 C472.05,167.30 475.00,161.25 478.00,158.00 C481.00,154.75 484.67,152.17 487.50,153.50 C490.33,154.83 492.42,160.70 495.00,166.00 C497.58,171.30 500.60,178.70 503.00,185.30 C505.40,191.90 507.23,198.98 509.40,205.60 C511.57,212.22 513.93,218.52 516.00,225.00 C518.07,231.48 519.87,237.87 521.80,244.50 C523.73,251.13 525.53,258.22 527.60,264.80 C529.67,271.38 531.83,277.58 534.20,284.00 C536.57,290.42 539.28,296.88 541.80,303.30 C544.32,309.72 546.57,316.22 549.30,322.50 C552.03,328.78 554.93,334.98 558.20,341.00 C561.47,347.02 565.05,352.98 568.90,358.60 C572.75,364.22 576.87,369.58 581.30,374.70 C585.73,379.82 592.22,386.08 595.50,389.30 C598.78,392.52 600.08,393.22 601.00,394.00" fill="none" stroke="#808080" stroke-width="4.3" stroke-dasharray="7 13.7" stroke-dashoffset="0" stroke-linecap="round"/>
<line x1="862.30" y1="343.20" x2="862.30" y2="384.65" stroke="#ff0000" stroke-width="3.0"/>
<line x1="862.30" y1="400.35" x2="862.30" y2="441.80" stroke="#ff0000" stroke-width="3.0"/>
<path d="M852.30,343.20H872.30M852.30,441.80H872.30" stroke="#ff0000" stroke-width="3.0" stroke-linecap="round"/>
<rect x="854.45" y="384.65" width="15.70" height="15.70" fill="#fff" stroke="#ff0000" stroke-width="3.4"/>
<line x1="944.40" y1="343.90" x2="944.40" y2="362.15" stroke="#ff0000" stroke-width="3.0"/>
<line x1="944.40" y1="377.85" x2="944.40" y2="396.10" stroke="#ff0000" stroke-width="3.0"/>
<path d="M934.40,343.90H954.40M934.40,396.10H954.40" stroke="#ff0000" stroke-width="3.0" stroke-linecap="round"/>
<rect x="936.55" y="362.15" width="15.70" height="15.70" fill="#fff" stroke="#ff0000" stroke-width="3.4"/>
<line x1="974.00" y1="372.10" x2="974.00" y2="380.55" stroke="#ff0000" stroke-width="3.0"/>
<line x1="974.00" y1="396.25" x2="974.00" y2="404.70" stroke="#ff0000" stroke-width="3.0"/>
<path d="M964.00,372.10H984.00M964.00,404.70H984.00" stroke="#ff0000" stroke-width="3.0" stroke-linecap="round"/>
<rect x="966.15" y="380.55" width="15.70" height="15.70" fill="#fff" stroke="#ff0000" stroke-width="3.4"/>
<line x1="1029.00" y1="401.80" x2="1029.00" y2="405.85" stroke="#ff0000" stroke-width="3.0"/>
<line x1="1029.00" y1="421.55" x2="1029.00" y2="425.60" stroke="#ff0000" stroke-width="3.0"/>
<path d="M1019.00,401.80H1039.00M1019.00,425.60H1039.00" stroke="#ff0000" stroke-width="3.0" stroke-linecap="round"/>
<rect x="1021.15" y="405.85" width="15.70" height="15.70" fill="#fff" stroke="#ff0000" stroke-width="3.4"/>
<line x1="1079.40" y1="316.10" x2="1079.40" y2="327.85" stroke="#ff0000" stroke-width="3.0"/>
<line x1="1079.40" y1="343.55" x2="1079.40" y2="355.30" stroke="#ff0000" stroke-width="3.0"/>
<path d="M1069.40,316.10H1089.40M1069.40,355.30H1089.40" stroke="#ff0000" stroke-width="3.0" stroke-linecap="round"/>
<rect x="1071.55" y="327.85" width="15.70" height="15.70" fill="#fff" stroke="#ff0000" stroke-width="3.4"/>
<line x1="1090.90" y1="316.50" x2="1090.90" y2="318.75" stroke="#ff0000" stroke-width="3.0"/>
<line x1="1090.90" y1="334.45" x2="1090.90" y2="336.70" stroke="#ff0000" stroke-width="3.0"/>
<path d="M1080.90,316.50H1100.90M1080.90,336.70H1100.90" stroke="#ff0000" stroke-width="3.0" stroke-linecap="round"/>
<rect x="1083.05" y="318.75" width="15.70" height="15.70" fill="#fff" stroke="#ff0000" stroke-width="3.4"/>
<line x1="1101.70" y1="288.10" x2="1101.70" y2="289.85" stroke="#ff0000" stroke-width="3.0"/>
<line x1="1101.70" y1="305.55" x2="1101.70" y2="307.30" stroke="#ff0000" stroke-width="3.0"/>
<path d="M1091.70,288.10H1111.70M1091.70,307.30H1111.70" stroke="#ff0000" stroke-width="3.0" stroke-linecap="round"/>
<rect x="1093.85" y="289.85" width="15.70" height="15.70" fill="#fff" stroke="#ff0000" stroke-width="3.4"/>
<line x1="1113.20" y1="244.90" x2="1113.20" y2="250.65" stroke="#ff0000" stroke-width="3.0"/>
<line x1="1113.20" y1="266.35" x2="1113.20" y2="272.10" stroke="#ff0000" stroke-width="3.0"/>
<path d="M1103.20,244.90H1123.20M1103.20,272.10H1123.20" stroke="#ff0000" stroke-width="3.0" stroke-linecap="round"/>
<rect x="1105.35" y="250.65" width="15.70" height="15.70" fill="#fff" stroke="#ff0000" stroke-width="3.4"/>
<line x1="1124.40" y1="202.60" x2="1124.40" y2="207.15" stroke="#ff0000" stroke-width="3.0"/>
<line x1="1124.40" y1="222.85" x2="1124.40" y2="227.40" stroke="#ff0000" stroke-width="3.0"/>
<path d="M1114.40,202.60H1134.40M1114.40,227.40H1134.40" stroke="#ff0000" stroke-width="3.0" stroke-linecap="round"/>
<rect x="1116.55" y="207.15" width="15.70" height="15.70" fill="#fff" stroke="#ff0000" stroke-width="3.4"/>
<line x1="1127.00" y1="187.20" x2="1127.00" y2="190.65" stroke="#ff0000" stroke-width="3.0"/>
<line x1="1127.00" y1="206.35" x2="1127.00" y2="209.80" stroke="#ff0000" stroke-width="3.0"/>
<path d="M1117.00,187.20H1137.00M1117.00,209.80H1137.00" stroke="#ff0000" stroke-width="3.0" stroke-linecap="round"/>
<rect x="1119.15" y="190.65" width="15.70" height="15.70" fill="#fff" stroke="#ff0000" stroke-width="3.4"/>
<line x1="1135.90" y1="179.30" x2="1135.90" y2="180.75" stroke="#ff0000" stroke-width="3.0"/>
<line x1="1135.90" y1="196.45" x2="1135.90" y2="197.90" stroke="#ff0000" stroke-width="3.0"/>
<path d="M1125.90,179.30H1145.90M1125.90,197.90H1145.90" stroke="#ff0000" stroke-width="3.0" stroke-linecap="round"/>
<rect x="1128.05" y="180.75" width="15.70" height="15.70" fill="#fff" stroke="#ff0000" stroke-width="3.4"/>
<line x1="1138.00" y1="160.60" x2="1138.00" y2="162.05" stroke="#ff0000" stroke-width="3.0"/>
<line x1="1138.00" y1="177.75" x2="1138.00" y2="179.20" stroke="#ff0000" stroke-width="3.0"/>
<path d="M1128.00,160.60H1148.00M1128.00,179.20H1148.00" stroke="#ff0000" stroke-width="3.0" stroke-linecap="round"/>
<rect x="1130.15" y="162.05" width="15.70" height="15.70" fill="#fff" stroke="#ff0000" stroke-width="3.4"/>
<line x1="1162.90" y1="131.60" x2="1162.90" y2="134.45" stroke="#ff0000" stroke-width="3.0"/>
<line x1="1162.90" y1="150.15" x2="1162.90" y2="153.00" stroke="#ff0000" stroke-width="3.0"/>
<path d="M1152.90,131.60H1172.90M1152.90,153.00H1172.90" stroke="#ff0000" stroke-width="3.0" stroke-linecap="round"/>
<rect x="1155.05" y="134.45" width="15.70" height="15.70" fill="#fff" stroke="#ff0000" stroke-width="3.4"/>
<line x1="1147.80" y1="135.60" x2="1147.80" y2="138.65" stroke="#ff0000" stroke-width="3.0"/>
<line x1="1147.80" y1="154.35" x2="1147.80" y2="157.40" stroke="#ff0000" stroke-width="3.0"/>
<path d="M1137.80,135.60H1157.80M1137.80,157.40H1157.80" stroke="#ff0000" stroke-width="3.0" stroke-linecap="round"/>
<rect x="1139.95" y="138.65" width="15.70" height="15.70" fill="#fff" stroke="#ff0000" stroke-width="3.4"/>
<line x1="1172.80" y1="146.40" x2="1172.80" y2="149.35" stroke="#ff0000" stroke-width="3.0"/>
<line x1="1172.80" y1="165.05" x2="1172.80" y2="168.00" stroke="#ff0000" stroke-width="3.0"/>
<path d="M1162.80,146.40H1182.80M1162.80,168.00H1182.80" stroke="#ff0000" stroke-width="3.0" stroke-linecap="round"/>
<rect x="1164.95" y="149.35" width="15.70" height="15.70" fill="#fff" stroke="#ff0000" stroke-width="3.4"/>
<line x1="1169.90" y1="193.20" x2="1169.90" y2="197.15" stroke="#ff0000" stroke-width="3.0"/>
<line x1="1169.90" y1="212.85" x2="1169.90" y2="216.80" stroke="#ff0000" stroke-width="3.0"/>
<path d="M1159.90,193.20H1179.90M1159.90,216.80H1179.90" stroke="#ff0000" stroke-width="3.0" stroke-linecap="round"/>
<rect x="1162.05" y="197.15" width="15.70" height="15.70" fill="#fff" stroke="#ff0000" stroke-width="3.4"/>
<line x1="1180.00" y1="227.00" x2="1180.00" y2="229.95" stroke="#ff0000" stroke-width="3.0"/>
<line x1="1180.00" y1="245.65" x2="1180.00" y2="248.60" stroke="#ff0000" stroke-width="3.0"/>
<path d="M1170.00,227.00H1190.00M1170.00,248.60H1190.00" stroke="#ff0000" stroke-width="3.0" stroke-linecap="round"/>
<rect x="1172.15" y="229.95" width="15.70" height="15.70" fill="#fff" stroke="#ff0000" stroke-width="3.4"/>
<line x1="1193.20" y1="245.50" x2="1193.20" y2="255.65" stroke="#ff0000" stroke-width="3.0"/>
<line x1="1193.20" y1="271.35" x2="1193.20" y2="281.50" stroke="#ff0000" stroke-width="3.0"/>
<path d="M1183.20,245.50H1203.20M1183.20,281.50H1203.20" stroke="#ff0000" stroke-width="3.0" stroke-linecap="round"/>
<rect x="1185.35" y="255.65" width="15.70" height="15.70" fill="#fff" stroke="#ff0000" stroke-width="3.4"/>
<path d="M1183.50,274.00H1203.50M1183.50,282.00H1203.50" stroke="#ff0000" stroke-width="3.0" stroke-linecap="round"/>
<rect x="1185.65" y="270.15" width="15.70" height="15.70" fill="#fff" stroke="#ff0000" stroke-width="3.4"/>
<line x1="1203.80" y1="268.50" x2="1203.80" y2="274.65" stroke="#ff0000" stroke-width="3.0"/>
<line x1="1203.80" y1="290.35" x2="1203.80" y2="296.50" stroke="#ff0000" stroke-width="3.0"/>
<path d="M1193.80,268.50H1213.80M1193.80,296.50H1213.80" stroke="#ff0000" stroke-width="3.0" stroke-linecap="round"/>
<rect x="1195.95" y="274.65" width="15.70" height="15.70" fill="#fff" stroke="#ff0000" stroke-width="3.4"/>
<line x1="1214.20" y1="301.20" x2="1214.20" y2="309.45" stroke="#ff0000" stroke-width="3.0"/>
<line x1="1214.20" y1="325.15" x2="1214.20" y2="333.40" stroke="#ff0000" stroke-width="3.0"/>
<path d="M1204.20,301.20H1224.20M1204.20,333.40H1224.20" stroke="#ff0000" stroke-width="3.0" stroke-linecap="round"/>
<rect x="1206.35" y="309.45" width="15.70" height="15.70" fill="#fff" stroke="#ff0000" stroke-width="3.4"/>
<line x1="1227.10" y1="308.00" x2="1227.10" y2="318.15" stroke="#ff0000" stroke-width="3.0"/>
<line x1="1227.10" y1="333.85" x2="1227.10" y2="344.00" stroke="#ff0000" stroke-width="3.0"/>
<path d="M1217.10,308.00H1237.10M1217.10,344.00H1237.10" stroke="#ff0000" stroke-width="3.0" stroke-linecap="round"/>
<rect x="1219.25" y="318.15" width="15.70" height="15.70" fill="#fff" stroke="#ff0000" stroke-width="3.4"/>
<path d="M797.60,486.30 C801.02,486.18 811.15,486.02 818.10,485.60 C825.05,485.18 832.25,484.35 839.30,483.80 C846.35,483.25 853.43,483.07 860.40,482.30 C867.37,481.53 874.25,480.32 881.10,479.20 C887.95,478.08 894.77,476.87 901.50,475.60 C908.23,474.33 914.75,472.90 921.50,471.60 C928.25,470.30 935.25,469.10 942.00,467.80 C948.75,466.50 955.33,465.32 962.00,463.80 C968.67,462.28 975.40,460.58 982.00,458.70 C988.60,456.82 995.18,454.87 1001.60,452.50 C1008.02,450.13 1014.47,447.62 1020.50,444.50 C1026.53,441.38 1032.43,437.80 1037.80,433.80 C1043.17,429.80 1047.92,425.32 1052.70,420.50 C1057.48,415.68 1062.35,410.62 1066.50,404.90 C1070.65,399.18 1074.05,392.52 1077.60,386.20 C1081.15,379.88 1084.90,373.47 1087.80,367.00 C1090.70,360.53 1092.58,354.10 1095.00,347.40 C1097.42,340.70 1100.05,333.67 1102.30,326.80 C1104.55,319.93 1106.62,313.07 1108.50,306.20 C1110.38,299.33 1111.88,292.47 1113.60,285.60 C1115.32,278.73 1117.25,271.53 1118.80,265.00 C1120.35,258.47 1121.37,252.93 1122.90,246.40 C1124.43,239.87 1126.45,232.33 1128.00,225.80 C1129.55,219.27 1130.75,213.57 1132.20,207.20 C1133.65,200.83 1135.17,194.13 1136.70,187.60 C1138.23,181.07 1139.58,174.52 1141.40,168.00 C1143.22,161.48 1145.02,154.33 1147.60,148.50 C1150.18,142.67 1154.32,136.10 1156.90,133.00 C1159.48,129.90 1160.52,128.87 1163.10,129.90 C1165.68,130.93 1169.65,134.22 1172.40,139.20 C1175.15,144.18 1177.20,152.93 1179.60,159.80 C1182.00,166.67 1184.57,173.53 1186.80,180.40 C1189.03,187.27 1191.12,194.13 1193.00,201.00 C1194.88,207.87 1196.22,214.90 1198.10,221.60 C1199.98,228.30 1202.32,234.73 1204.30,241.20 C1206.28,247.67 1207.92,253.83 1210.00,260.40 C1212.08,266.97 1214.43,274.10 1216.80,280.60 C1219.17,287.10 1221.63,293.07 1224.20,299.40 C1226.77,305.73 1229.35,312.33 1232.20,318.60 C1235.05,324.87 1238.10,330.90 1241.30,337.00 C1244.50,343.10 1247.95,349.53 1251.40,355.20 C1254.85,360.87 1258.23,366.20 1262.00,371.00 C1265.77,375.80 1272.00,381.83 1274.00,384.00" fill="none" stroke="#808080" stroke-width="4.3" stroke-dasharray="7 13.7" stroke-dashoffset="0" stroke-linecap="round"/>
<line x1="1109.50" y1="296.90" x2="1134.00" y2="296.90" stroke="#000" stroke-width="2.2"/>
<polygon points="1132.00,288.70 1161.00,296.90 1132.00,305.10" fill="#000"/>
<rect x="1154.30" y="451.70" width="102.70" height="49.80" fill="#fff" stroke="#000" stroke-width="2.7"/>
<text transform="translate(1159.00,489.30) scale(1,1.04)" font-size="35" font-weight="bold" text-anchor="start" >575 K</text>
<line x1="176.00" y1="821.00" x2="176.00" y2="829.20" stroke="#000" stroke-width="3.0"/>
<line x1="176.00" y1="846.80" x2="176.00" y2="855.00" stroke="#000" stroke-width="3.0"/>
<path d="M166.00,821.00H186.00M166.00,855.00H186.00" stroke="#000" stroke-width="3.0" stroke-linecap="round"/>
<circle cx="176.00" cy="838.00" r="8.8" fill="#fff" stroke="#000" stroke-width="3.9"/>
<line x1="164.40" y1="832.60" x2="164.40" y2="842.40" stroke="#000" stroke-width="3.0"/>
<line x1="164.40" y1="860.00" x2="164.40" y2="869.80" stroke="#000" stroke-width="3.0"/>
<path d="M154.40,832.60H174.40M154.40,869.80H174.40" stroke="#000" stroke-width="3.0" stroke-linecap="round"/>
<circle cx="164.40" cy="851.20" r="8.8" fill="#fff" stroke="#000" stroke-width="3.9"/>
<line x1="200.30" y1="818.90" x2="200.30" y2="827.10" stroke="#000" stroke-width="3.0"/>
<line x1="200.30" y1="844.70" x2="200.30" y2="852.90" stroke="#000" stroke-width="3.0"/>
<path d="M190.30,818.90H210.30M190.30,852.90H210.30" stroke="#000" stroke-width="3.0" stroke-linecap="round"/>
<circle cx="200.30" cy="835.90" r="8.8" fill="#fff" stroke="#000" stroke-width="3.9"/>
<line x1="189.60" y1="817.30" x2="189.60" y2="825.50" stroke="#000" stroke-width="3.0"/>
<line x1="189.60" y1="843.10" x2="189.60" y2="851.30" stroke="#000" stroke-width="3.0"/>
<path d="M179.60,817.30H199.60M179.60,851.30H199.60" stroke="#000" stroke-width="3.0" stroke-linecap="round"/>
<circle cx="189.60" cy="834.30" r="8.8" fill="#fff" stroke="#000" stroke-width="3.9"/>
<line x1="189.60" y1="835.90" x2="189.60" y2="846.90" stroke="#000" stroke-width="3.0"/>
<line x1="189.60" y1="864.50" x2="189.60" y2="875.50" stroke="#000" stroke-width="3.0"/>
<path d="M179.60,835.90H199.60M179.60,875.50H199.60" stroke="#000" stroke-width="3.0" stroke-linecap="round"/>
<circle cx="189.60" cy="855.70" r="8.8" fill="#fff" stroke="#000" stroke-width="3.9"/>
<line x1="213.10" y1="805.00" x2="213.10" y2="816.80" stroke="#000" stroke-width="3.0"/>
<line x1="213.10" y1="834.40" x2="213.10" y2="846.20" stroke="#000" stroke-width="3.0"/>
<path d="M203.10,805.00H223.10M203.10,846.20H223.10" stroke="#000" stroke-width="3.0" stroke-linecap="round"/>
<circle cx="213.10" cy="825.60" r="8.8" fill="#fff" stroke="#000" stroke-width="3.9"/>
<line x1="223.00" y1="770.00" x2="223.00" y2="778.70" stroke="#000" stroke-width="3.0"/>
<line x1="223.00" y1="796.30" x2="223.00" y2="805.00" stroke="#000" stroke-width="3.0"/>
<path d="M213.00,770.00H233.00M213.00,805.00H233.00" stroke="#000" stroke-width="3.0" stroke-linecap="round"/>
<circle cx="223.00" cy="787.50" r="8.8" fill="#fff" stroke="#000" stroke-width="3.9"/>
<line x1="246.50" y1="784.30" x2="246.50" y2="792.80" stroke="#000" stroke-width="3.0"/>
<line x1="246.50" y1="810.40" x2="246.50" y2="818.90" stroke="#000" stroke-width="3.0"/>
<path d="M236.50,784.30H256.50M236.50,818.90H256.50" stroke="#000" stroke-width="3.0" stroke-linecap="round"/>
<circle cx="246.50" cy="801.60" r="8.8" fill="#fff" stroke="#000" stroke-width="3.9"/>
<line x1="261.90" y1="785.90" x2="261.90" y2="792.70" stroke="#000" stroke-width="3.0"/>
<line x1="261.90" y1="810.30" x2="261.90" y2="817.10" stroke="#000" stroke-width="3.0"/>
<path d="M251.90,785.90H271.90M251.90,817.10H271.90" stroke="#000" stroke-width="3.0" stroke-linecap="round"/>
<circle cx="261.90" cy="801.50" r="8.8" fill="#fff" stroke="#000" stroke-width="3.9"/>
<line x1="270.80" y1="760.50" x2="270.80" y2="765.70" stroke="#000" stroke-width="3.0"/>
<line x1="270.80" y1="783.30" x2="270.80" y2="788.50" stroke="#000" stroke-width="3.0"/>
<path d="M260.80,760.50H280.80M260.80,788.50H280.80" stroke="#000" stroke-width="3.0" stroke-linecap="round"/>
<circle cx="270.80" cy="774.50" r="8.8" fill="#fff" stroke="#000" stroke-width="3.9"/>
<line x1="270.50" y1="763.10" x2="270.50" y2="770.90" stroke="#000" stroke-width="3.0"/>
<line x1="270.50" y1="788.50" x2="270.50" y2="796.30" stroke="#000" stroke-width="3.0"/>
<path d="M260.50,763.10H280.50M260.50,796.30H280.50" stroke="#000" stroke-width="3.0" stroke-linecap="round"/>
<circle cx="270.50" cy="779.70" r="8.8" fill="#fff" stroke="#000" stroke-width="3.9"/>
<line x1="281.10" y1="757.10" x2="281.10" y2="762.30" stroke="#000" stroke-width="3.0"/>
<line x1="281.10" y1="779.90" x2="281.10" y2="785.10" stroke="#000" stroke-width="3.0"/>
<path d="M271.10,757.10H291.10M271.10,785.10H291.10" stroke="#000" stroke-width="3.0" stroke-linecap="round"/>
<circle cx="281.10" cy="771.10" r="8.8" fill="#fff" stroke="#000" stroke-width="3.9"/>
<line x1="294.50" y1="763.40" x2="294.50" y2="769.60" stroke="#000" stroke-width="3.0"/>
<line x1="294.50" y1="787.20" x2="294.50" y2="793.40" stroke="#000" stroke-width="3.0"/>
<path d="M284.50,763.40H304.50M284.50,793.40H304.50" stroke="#000" stroke-width="3.0" stroke-linecap="round"/>
<circle cx="294.50" cy="778.40" r="8.8" fill="#fff" stroke="#000" stroke-width="3.9"/>
<line x1="304.90" y1="773.40" x2="304.90" y2="778.60" stroke="#000" stroke-width="3.0"/>
<line x1="304.90" y1="796.20" x2="304.90" y2="801.40" stroke="#000" stroke-width="3.0"/>
<path d="M294.90,773.40H314.90M294.90,801.40H314.90" stroke="#000" stroke-width="3.0" stroke-linecap="round"/>
<circle cx="304.90" cy="787.40" r="8.8" fill="#fff" stroke="#000" stroke-width="3.9"/>
<line x1="333.70" y1="788.90" x2="333.70" y2="794.40" stroke="#000" stroke-width="3.0"/>
<line x1="333.70" y1="812.00" x2="333.70" y2="817.50" stroke="#000" stroke-width="3.0"/>
<path d="M323.70,788.90H343.70M323.70,817.50H343.70" stroke="#000" stroke-width="3.0" stroke-linecap="round"/>
<circle cx="333.70" cy="803.20" r="8.8" fill="#fff" stroke="#000" stroke-width="3.9"/>
<line x1="343.70" y1="767.50" x2="343.70" y2="771.10" stroke="#000" stroke-width="3.0"/>
<line x1="343.70" y1="788.70" x2="343.70" y2="792.30" stroke="#000" stroke-width="3.0"/>
<path d="M333.70,767.50H353.70M333.70,792.30H353.70" stroke="#000" stroke-width="3.0" stroke-linecap="round"/>
<circle cx="343.70" cy="779.90" r="8.8" fill="#fff" stroke="#000" stroke-width="3.9"/>
<line x1="355.60" y1="757.40" x2="355.60" y2="758.60" stroke="#000" stroke-width="3.0"/>
<line x1="355.60" y1="776.20" x2="355.60" y2="777.40" stroke="#000" stroke-width="3.0"/>
<path d="M345.60,757.40H365.60M345.60,777.40H365.60" stroke="#000" stroke-width="3.0" stroke-linecap="round"/>
<circle cx="355.60" cy="767.40" r="8.8" fill="#fff" stroke="#000" stroke-width="3.9"/>
<line x1="355.60" y1="777.80" x2="355.60" y2="781.40" stroke="#000" stroke-width="3.0"/>
<line x1="355.60" y1="799.00" x2="355.60" y2="802.60" stroke="#000" stroke-width="3.0"/>
<path d="M345.60,777.80H365.60M345.60,802.60H365.60" stroke="#000" stroke-width="3.0" stroke-linecap="round"/>
<circle cx="355.60" cy="790.20" r="8.8" fill="#fff" stroke="#000" stroke-width="3.9"/>
<line x1="368.20" y1="755.20" x2="368.20" y2="756.40" stroke="#000" stroke-width="3.0"/>
<line x1="368.20" y1="774.00" x2="368.20" y2="775.20" stroke="#000" stroke-width="3.0"/>
<path d="M358.20,755.20H378.20M358.20,775.20H378.20" stroke="#000" stroke-width="3.0" stroke-linecap="round"/>
<circle cx="368.20" cy="765.20" r="8.8" fill="#fff" stroke="#000" stroke-width="3.9"/>
<line x1="378.20" y1="772.60" x2="378.20" y2="775.50" stroke="#000" stroke-width="3.0"/>
<line x1="378.20" y1="793.10" x2="378.20" y2="796.00" stroke="#000" stroke-width="3.0"/>
<path d="M368.20,772.60H388.20M368.20,796.00H388.20" stroke="#000" stroke-width="3.0" stroke-linecap="round"/>
<circle cx="378.20" cy="784.30" r="8.8" fill="#fff" stroke="#000" stroke-width="3.9"/>
<line x1="388.60" y1="754.50" x2="388.60" y2="757.60" stroke="#000" stroke-width="3.0"/>
<line x1="388.60" y1="775.20" x2="388.60" y2="778.30" stroke="#000" stroke-width="3.0"/>
<path d="M378.60,754.50H398.60M378.60,778.30H398.60" stroke="#000" stroke-width="3.0" stroke-linecap="round"/>
<circle cx="388.60" cy="766.40" r="8.8" fill="#fff" stroke="#000" stroke-width="3.9"/>
<line x1="407.40" y1="722.60" x2="407.40" y2="728.50" stroke="#000" stroke-width="3.0"/>
<line x1="407.40" y1="746.10" x2="407.40" y2="752.00" stroke="#000" stroke-width="3.0"/>
<path d="M397.40,722.60H417.40M397.40,752.00H417.40" stroke="#000" stroke-width="3.0" stroke-linecap="round"/>
<circle cx="407.40" cy="737.30" r="8.8" fill="#fff" stroke="#000" stroke-width="3.9"/>
<line x1="418.10" y1="713.50" x2="418.10" y2="716.70" stroke="#000" stroke-width="3.0"/>
<line x1="418.10" y1="734.30" x2="418.10" y2="737.50" stroke="#000" stroke-width="3.0"/>
<path d="M408.10,713.50H428.10M408.10,737.50H428.10" stroke="#000" stroke-width="3.0" stroke-linecap="round"/>
<circle cx="418.10" cy="725.50" r="8.8" fill="#fff" stroke="#000" stroke-width="3.9"/>
<line x1="428.40" y1="684.70" x2="428.40" y2="686.20" stroke="#000" stroke-width="3.0"/>
<line x1="428.40" y1="703.80" x2="428.40" y2="705.30" stroke="#000" stroke-width="3.0"/>
<path d="M418.40,684.70H438.40M418.40,705.30H438.40" stroke="#000" stroke-width="3.0" stroke-linecap="round"/>
<circle cx="428.40" cy="695.00" r="8.8" fill="#fff" stroke="#000" stroke-width="3.9"/>
<path d="M418.40,671.00H438.40M418.40,685.00H438.40" stroke="#000" stroke-width="3.0" stroke-linecap="round"/>
<circle cx="428.40" cy="678.00" r="8.8" fill="#fff" stroke="#000" stroke-width="3.9"/>
<path d="M431.50,642.80H451.50M431.50,660.20H451.50" stroke="#000" stroke-width="3.0" stroke-linecap="round"/>
<circle cx="441.50" cy="651.50" r="8.8" fill="#fff" stroke="#000" stroke-width="3.9"/>
<line x1="451.50" y1="621.70" x2="451.50" y2="622.60" stroke="#000" stroke-width="3.0"/>
<line x1="451.50" y1="640.20" x2="451.50" y2="641.10" stroke="#000" stroke-width="3.0"/>
<path d="M441.50,621.70H461.50M441.50,641.10H461.50" stroke="#000" stroke-width="3.0" stroke-linecap="round"/>
<circle cx="451.50" cy="631.40" r="8.8" fill="#fff" stroke="#000" stroke-width="3.9"/>
<line x1="453.50" y1="600.60" x2="453.50" y2="600.70" stroke="#000" stroke-width="3.0"/>
<line x1="453.50" y1="618.30" x2="453.50" y2="618.40" stroke="#000" stroke-width="3.0"/>
<path d="M443.50,600.60H463.50M443.50,618.40H463.50" stroke="#000" stroke-width="3.0" stroke-linecap="round"/>
<circle cx="453.50" cy="609.50" r="8.8" fill="#fff" stroke="#000" stroke-width="3.9"/>
<line x1="464.70" y1="581.00" x2="464.70" y2="582.20" stroke="#000" stroke-width="3.0"/>
<line x1="464.70" y1="599.80" x2="464.70" y2="601.00" stroke="#000" stroke-width="3.0"/>
<path d="M454.70,581.00H474.70M454.70,601.00H474.70" stroke="#000" stroke-width="3.0" stroke-linecap="round"/>
<circle cx="464.70" cy="591.00" r="8.8" fill="#fff" stroke="#000" stroke-width="3.9"/>
<line x1="462.60" y1="559.80" x2="462.60" y2="561.30" stroke="#000" stroke-width="3.0"/>
<line x1="462.60" y1="578.90" x2="462.60" y2="580.40" stroke="#000" stroke-width="3.0"/>
<path d="M452.60,559.80H472.60M452.60,580.40H472.60" stroke="#000" stroke-width="3.0" stroke-linecap="round"/>
<circle cx="462.60" cy="570.10" r="8.8" fill="#fff" stroke="#000" stroke-width="3.9"/>
<line x1="474.10" y1="558.50" x2="474.10" y2="559.70" stroke="#000" stroke-width="3.0"/>
<line x1="474.10" y1="577.30" x2="474.10" y2="578.50" stroke="#000" stroke-width="3.0"/>
<path d="M464.10,558.50H484.10M464.10,578.50H484.10" stroke="#000" stroke-width="3.0" stroke-linecap="round"/>
<circle cx="474.10" cy="568.50" r="8.8" fill="#fff" stroke="#000" stroke-width="3.9"/>
<path d="M479.00,548.10H499.00M479.00,564.10H499.00" stroke="#000" stroke-width="3.0" stroke-linecap="round"/>
<circle cx="489.00" cy="556.10" r="8.8" fill="#fff" stroke="#000" stroke-width="3.9"/>
<path d="M488.90,555.10H508.90M488.90,571.10H508.90" stroke="#000" stroke-width="3.0" stroke-linecap="round"/>
<circle cx="498.90" cy="563.10" r="8.8" fill="#fff" stroke="#000" stroke-width="3.9"/>
<line x1="496.00" y1="568.80" x2="496.00" y2="570.00" stroke="#000" stroke-width="3.0"/>
<line x1="496.00" y1="587.60" x2="496.00" y2="588.80" stroke="#000" stroke-width="3.0"/>
<path d="M486.00,568.80H506.00M486.00,588.80H506.00" stroke="#000" stroke-width="3.0" stroke-linecap="round"/>
<circle cx="496.00" cy="578.80" r="8.8" fill="#fff" stroke="#000" stroke-width="3.9"/>
<line x1="508.80" y1="575.50" x2="508.80" y2="577.40" stroke="#000" stroke-width="3.0"/>
<line x1="508.80" y1="595.00" x2="508.80" y2="596.90" stroke="#000" stroke-width="3.0"/>
<path d="M498.80,575.50H518.80M498.80,596.90H518.80" stroke="#000" stroke-width="3.0" stroke-linecap="round"/>
<circle cx="508.80" cy="586.20" r="8.8" fill="#fff" stroke="#000" stroke-width="3.9"/>
<line x1="518.90" y1="602.40" x2="518.90" y2="602.60" stroke="#000" stroke-width="3.0"/>
<line x1="518.90" y1="620.20" x2="518.90" y2="620.40" stroke="#000" stroke-width="3.0"/>
<path d="M508.90,602.40H528.90M508.90,620.40H528.90" stroke="#000" stroke-width="3.0" stroke-linecap="round"/>
<circle cx="518.90" cy="611.40" r="8.8" fill="#fff" stroke="#000" stroke-width="3.9"/>
<path d="M508.90,620.30H528.90M508.90,635.70H528.90" stroke="#000" stroke-width="3.0" stroke-linecap="round"/>
<circle cx="518.90" cy="628.00" r="8.8" fill="#fff" stroke="#000" stroke-width="3.9"/>
<line x1="530.30" y1="628.20" x2="530.30" y2="630.60" stroke="#000" stroke-width="3.0"/>
<line x1="530.30" y1="648.20" x2="530.30" y2="650.60" stroke="#000" stroke-width="3.0"/>
<path d="M520.30,628.20H540.30M520.30,650.60H540.30" stroke="#000" stroke-width="3.0" stroke-linecap="round"/>
<circle cx="530.30" cy="639.40" r="8.8" fill="#fff" stroke="#000" stroke-width="3.9"/>
<line x1="540.60" y1="658.40" x2="540.60" y2="659.80" stroke="#000" stroke-width="3.0"/>
<line x1="540.60" y1="677.40" x2="540.60" y2="678.80" stroke="#000" stroke-width="3.0"/>
<path d="M530.60,658.40H550.60M530.60,678.80H550.60" stroke="#000" stroke-width="3.0" stroke-linecap="round"/>
<circle cx="540.60" cy="668.60" r="8.8" fill="#fff" stroke="#000" stroke-width="3.9"/>
<line x1="551.90" y1="647.10" x2="551.90" y2="650.00" stroke="#000" stroke-width="3.0"/>
<line x1="551.90" y1="667.60" x2="551.90" y2="670.50" stroke="#000" stroke-width="3.0"/>
<path d="M541.90,647.10H561.90M541.90,670.50H561.90" stroke="#000" stroke-width="3.0" stroke-linecap="round"/>
<circle cx="551.90" cy="658.80" r="8.8" fill="#fff" stroke="#000" stroke-width="3.9"/>
<path d="M124.50,901.85 C128.25,901.10 140.25,898.61 147.00,897.31 C153.75,896.02 158.58,895.46 165.00,894.07 C171.42,892.68 178.75,890.85 185.50,888.99 C192.25,887.14 199.00,885.12 205.50,882.94 C212.00,880.76 218.17,878.52 224.50,875.91 C230.83,873.30 237.42,870.24 243.50,867.26 C249.58,864.29 254.75,861.09 261.00,858.08 C267.25,855.07 273.90,851.68 281.00,849.21 C288.10,846.75 296.77,845.02 303.60,843.27 C310.43,841.52 315.68,840.46 322.00,838.73 C328.32,837.00 335.05,835.31 341.50,832.89 C347.95,830.48 354.73,827.74 360.70,824.24 C366.67,820.75 372.42,816.14 377.30,811.92 C382.18,807.71 385.55,804.90 390.00,798.95 C394.45,793.01 400.08,783.28 404.00,776.25 C407.92,769.23 410.50,763.57 413.50,756.80 C416.50,750.02 419.53,742.64 422.00,735.61 C424.47,728.58 426.17,721.74 428.30,714.64 C430.43,707.54 432.80,700.23 434.80,693.02 C436.80,685.82 438.40,678.61 440.30,671.40 C442.20,664.20 444.30,656.99 446.20,649.79 C448.10,642.58 449.93,635.28 451.70,628.17 C453.47,621.05 454.97,614.26 456.80,607.09 C458.63,599.92 460.58,592.26 462.70,585.15 C464.82,578.03 466.95,570.56 469.50,564.39 C472.05,558.23 475.00,551.69 478.00,548.18 C481.00,544.67 484.67,541.88 487.50,543.32 C490.33,544.76 492.42,551.10 495.00,556.83 C497.58,562.56 500.60,570.56 503.00,577.69 C505.40,584.82 507.23,592.48 509.40,599.63 C511.57,606.78 513.93,613.59 516.00,620.60 C518.07,627.61 519.87,634.51 521.80,641.68 C523.73,648.85 525.53,656.51 527.60,663.62 C529.67,670.74 531.83,677.44 534.20,684.38 C536.57,691.31 539.28,698.30 541.80,705.24 C544.32,712.17 546.57,719.20 549.30,725.99 C552.03,732.78 554.93,739.48 558.20,745.99 C561.47,752.49 565.05,758.94 568.90,765.01 C572.75,771.08 576.87,776.88 581.30,782.41 C585.73,787.94 592.22,794.72 595.50,798.19 C598.78,801.67 600.08,802.43 601.00,803.27" fill="none" stroke="#808080" stroke-width="4.3" stroke-dasharray="7 13.7" stroke-dashoffset="0" stroke-linecap="round"/>
<line x1="544.00" y1="706.80" x2="569.30" y2="706.80" stroke="#000" stroke-width="2.2"/>
<polygon points="567.30,698.50 595.90,706.80 567.30,715.10" fill="#000"/>
<rect x="477.70" y="873.00" width="102.90" height="49.20" fill="#fff" stroke="#000" stroke-width="2.7"/>
<text transform="translate(483.00,910.60) scale(1,1.04)" font-size="35" font-weight="bold" text-anchor="start" >515 K</text>
<rect x="503.34" y="905.66" width="7.25" height="6.04" fill="#fff"/>
<rect x="515.45" y="905.66" width="6.09" height="6.04" fill="#fff"/>
<line x1="862.30" y1="788.50" x2="862.30" y2="952.00" stroke="#ff0000" stroke-width="3.0"/>
<path d="M852.30,788.5H872.30" stroke="#ff0000" stroke-width="3.0" stroke-linecap="round"/>
<circle cx="862.3" cy="881.1" r="8.8" fill="#fff" stroke="#ff0000" stroke-width="3.4"/>
<line x1="944.30" y1="737.10" x2="944.30" y2="784.80" stroke="#ff0000" stroke-width="3.0"/>
<line x1="944.30" y1="802.40" x2="944.30" y2="850.10" stroke="#ff0000" stroke-width="3.0"/>
<path d="M934.30,737.10H954.30M934.30,850.10H954.30" stroke="#ff0000" stroke-width="3.0" stroke-linecap="round"/>
<circle cx="944.30" cy="793.60" r="8.8" fill="#fff" stroke="#ff0000" stroke-width="3.9"/>
<line x1="974.20" y1="748.00" x2="974.20" y2="777.00" stroke="#ff0000" stroke-width="3.0"/>
<line x1="974.20" y1="794.60" x2="974.20" y2="823.60" stroke="#ff0000" stroke-width="3.0"/>
<path d="M964.20,748.00H984.20M964.20,823.60H984.20" stroke="#ff0000" stroke-width="3.0" stroke-linecap="round"/>
<circle cx="974.20" cy="785.80" r="8.8" fill="#fff" stroke="#ff0000" stroke-width="3.9"/>
<line x1="1029.10" y1="734.00" x2="1029.10" y2="756.80" stroke="#ff0000" stroke-width="3.0"/>
<line x1="1029.10" y1="774.40" x2="1029.10" y2="797.20" stroke="#ff0000" stroke-width="3.0"/>
<path d="M1019.10,734.00H1039.10M1019.10,797.20H1039.10" stroke="#ff0000" stroke-width="3.0" stroke-linecap="round"/>
<circle cx="1029.10" cy="765.60" r="8.8" fill="#fff" stroke="#ff0000" stroke-width="3.9"/>
<line x1="1079.60" y1="603.40" x2="1079.60" y2="639.50" stroke="#ff0000" stroke-width="3.0"/>
<line x1="1079.60" y1="657.10" x2="1079.60" y2="693.20" stroke="#ff0000" stroke-width="3.0"/>
<path d="M1069.60,603.40H1089.60M1069.60,693.20H1089.60" stroke="#ff0000" stroke-width="3.0" stroke-linecap="round"/>
<circle cx="1079.60" cy="648.30" r="8.8" fill="#fff" stroke="#ff0000" stroke-width="3.9"/>
<line x1="1091.00" y1="681.30" x2="1091.00" y2="694.20" stroke="#ff0000" stroke-width="3.0"/>
<line x1="1091.00" y1="711.80" x2="1091.00" y2="724.70" stroke="#ff0000" stroke-width="3.0"/>
<path d="M1081.00,681.30H1101.00M1081.00,724.70H1101.00" stroke="#ff0000" stroke-width="3.0" stroke-linecap="round"/>
<circle cx="1091.00" cy="703.00" r="8.8" fill="#fff" stroke="#ff0000" stroke-width="3.9"/>
<line x1="1102.30" y1="687.50" x2="1102.30" y2="698.10" stroke="#ff0000" stroke-width="3.0"/>
<line x1="1102.30" y1="715.70" x2="1102.30" y2="726.30" stroke="#ff0000" stroke-width="3.0"/>
<path d="M1092.30,687.50H1112.30M1092.30,726.30H1112.30" stroke="#ff0000" stroke-width="3.0" stroke-linecap="round"/>
<circle cx="1102.30" cy="706.90" r="8.8" fill="#fff" stroke="#ff0000" stroke-width="3.9"/>
<line x1="1102.30" y1="638.50" x2="1102.30" y2="645.20" stroke="#ff0000" stroke-width="3.0"/>
<line x1="1102.30" y1="662.80" x2="1102.30" y2="669.50" stroke="#ff0000" stroke-width="3.0"/>
<path d="M1092.30,638.50H1112.30M1092.30,669.50H1112.30" stroke="#ff0000" stroke-width="3.0" stroke-linecap="round"/>
<circle cx="1102.30" cy="654.00" r="8.8" fill="#fff" stroke="#ff0000" stroke-width="3.9"/>
<line x1="1112.60" y1="640.50" x2="1112.60" y2="655.70" stroke="#ff0000" stroke-width="3.0"/>
<line x1="1112.60" y1="673.30" x2="1112.60" y2="688.50" stroke="#ff0000" stroke-width="3.0"/>
<path d="M1102.60,640.50H1122.60M1102.60,688.50H1122.60" stroke="#ff0000" stroke-width="3.0" stroke-linecap="round"/>
<circle cx="1112.60" cy="664.50" r="8.8" fill="#fff" stroke="#ff0000" stroke-width="3.9"/>
<line x1="1124.50" y1="639.50" x2="1124.50" y2="650.60" stroke="#ff0000" stroke-width="3.0"/>
<line x1="1124.50" y1="668.20" x2="1124.50" y2="679.30" stroke="#ff0000" stroke-width="3.0"/>
<path d="M1114.50,639.50H1134.50M1114.50,679.30H1134.50" stroke="#ff0000" stroke-width="3.0" stroke-linecap="round"/>
<circle cx="1124.50" cy="659.40" r="8.8" fill="#fff" stroke="#ff0000" stroke-width="3.9"/>
<line x1="1127.80" y1="584.70" x2="1127.80" y2="594.60" stroke="#ff0000" stroke-width="3.0"/>
<line x1="1127.80" y1="612.20" x2="1127.80" y2="622.10" stroke="#ff0000" stroke-width="3.0"/>
<path d="M1117.80,584.70H1137.80M1117.80,622.10H1137.80" stroke="#ff0000" stroke-width="3.0" stroke-linecap="round"/>
<circle cx="1127.80" cy="603.40" r="8.8" fill="#fff" stroke="#ff0000" stroke-width="3.9"/>
<line x1="1135.20" y1="574.40" x2="1135.20" y2="581.60" stroke="#ff0000" stroke-width="3.0"/>
<line x1="1135.20" y1="599.20" x2="1135.20" y2="606.40" stroke="#ff0000" stroke-width="3.0"/>
<path d="M1125.20,574.40H1145.20M1125.20,606.40H1145.20" stroke="#ff0000" stroke-width="3.0" stroke-linecap="round"/>
<circle cx="1135.20" cy="590.40" r="8.8" fill="#fff" stroke="#ff0000" stroke-width="3.9"/>
<line x1="1147.10" y1="562.80" x2="1147.10" y2="570.00" stroke="#ff0000" stroke-width="3.0"/>
<line x1="1147.10" y1="587.60" x2="1147.10" y2="594.80" stroke="#ff0000" stroke-width="3.0"/>
<path d="M1137.10,562.80H1157.10M1137.10,594.80H1157.10" stroke="#ff0000" stroke-width="3.0" stroke-linecap="round"/>
<circle cx="1147.10" cy="578.80" r="8.8" fill="#fff" stroke="#ff0000" stroke-width="3.9"/>
<line x1="1161.10" y1="558.70" x2="1161.10" y2="568.20" stroke="#ff0000" stroke-width="3.0"/>
<line x1="1161.10" y1="585.80" x2="1161.10" y2="595.30" stroke="#ff0000" stroke-width="3.0"/>
<path d="M1151.10,558.70H1171.10M1151.10,595.30H1171.10" stroke="#ff0000" stroke-width="3.0" stroke-linecap="round"/>
<circle cx="1161.10" cy="577.00" r="8.8" fill="#fff" stroke="#ff0000" stroke-width="3.9"/>
<line x1="1170.80" y1="572.00" x2="1170.80" y2="582.20" stroke="#ff0000" stroke-width="3.0"/>
<line x1="1170.80" y1="599.80" x2="1170.80" y2="610.00" stroke="#ff0000" stroke-width="3.0"/>
<path d="M1160.80,572.00H1180.80M1160.80,610.00H1180.80" stroke="#ff0000" stroke-width="3.0" stroke-linecap="round"/>
<circle cx="1170.80" cy="591.00" r="8.8" fill="#fff" stroke="#ff0000" stroke-width="3.9"/>
<line x1="1172.30" y1="557.90" x2="1172.30" y2="565.10" stroke="#ff0000" stroke-width="3.0"/>
<line x1="1172.30" y1="582.70" x2="1172.30" y2="589.90" stroke="#ff0000" stroke-width="3.0"/>
<path d="M1162.30,557.90H1182.30M1162.30,589.90H1182.30" stroke="#ff0000" stroke-width="3.0" stroke-linecap="round"/>
<circle cx="1172.30" cy="573.90" r="8.8" fill="#fff" stroke="#ff0000" stroke-width="3.9"/>
<line x1="1180.00" y1="605.00" x2="1180.00" y2="613.20" stroke="#ff0000" stroke-width="3.0"/>
<line x1="1180.00" y1="630.80" x2="1180.00" y2="639.00" stroke="#ff0000" stroke-width="3.0"/>
<path d="M1170.00,605.00H1190.00M1170.00,639.00H1190.00" stroke="#ff0000" stroke-width="3.0" stroke-linecap="round"/>
<circle cx="1180.00" cy="622.00" r="8.8" fill="#fff" stroke="#ff0000" stroke-width="3.9"/>
<line x1="1193.80" y1="563.80" x2="1193.80" y2="568.20" stroke="#ff0000" stroke-width="3.0"/>
<line x1="1193.80" y1="585.80" x2="1193.80" y2="590.20" stroke="#ff0000" stroke-width="3.0"/>
<path d="M1183.80,563.80H1203.80M1183.80,590.20H1203.80" stroke="#ff0000" stroke-width="3.0" stroke-linecap="round"/>
<circle cx="1193.80" cy="577.00" r="8.8" fill="#fff" stroke="#ff0000" stroke-width="3.9"/>
<line x1="1193.80" y1="578.00" x2="1193.80" y2="592.20" stroke="#ff0000" stroke-width="3.0"/>
<line x1="1193.80" y1="609.80" x2="1193.80" y2="624.00" stroke="#ff0000" stroke-width="3.0"/>
<path d="M1183.80,578.00H1203.80M1183.80,624.00H1203.80" stroke="#ff0000" stroke-width="3.0" stroke-linecap="round"/>
<circle cx="1193.80" cy="601.00" r="8.8" fill="#fff" stroke="#ff0000" stroke-width="3.9"/>
<line x1="1203.10" y1="675.30" x2="1203.10" y2="692.10" stroke="#ff0000" stroke-width="3.0"/>
<line x1="1203.10" y1="709.70" x2="1203.10" y2="726.50" stroke="#ff0000" stroke-width="3.0"/>
<path d="M1193.10,675.30H1213.10M1193.10,726.50H1213.10" stroke="#ff0000" stroke-width="3.0" stroke-linecap="round"/>
<circle cx="1203.10" cy="700.90" r="8.8" fill="#fff" stroke="#ff0000" stroke-width="3.9"/>
<line x1="1213.90" y1="679.80" x2="1213.90" y2="703.60" stroke="#ff0000" stroke-width="3.0"/>
<line x1="1213.90" y1="721.20" x2="1213.90" y2="745.00" stroke="#ff0000" stroke-width="3.0"/>
<path d="M1203.90,679.80H1223.90M1203.90,745.00H1223.90" stroke="#ff0000" stroke-width="3.0" stroke-linecap="round"/>
<circle cx="1213.90" cy="712.40" r="8.8" fill="#fff" stroke="#ff0000" stroke-width="3.9"/>
<line x1="1227.50" y1="693.10" x2="1227.50" y2="720.60" stroke="#ff0000" stroke-width="3.0"/>
<line x1="1227.50" y1="738.20" x2="1227.50" y2="765.70" stroke="#ff0000" stroke-width="3.0"/>
<path d="M1217.50,693.10H1237.50M1217.50,765.70H1237.50" stroke="#ff0000" stroke-width="3.0" stroke-linecap="round"/>
<circle cx="1227.50" cy="729.40" r="8.8" fill="#fff" stroke="#ff0000" stroke-width="3.9"/>
<path d="M797.60,904.48 C801.02,904.37 811.15,904.20 818.10,903.79 C825.05,903.37 832.25,902.54 839.30,902.00 C846.35,901.45 853.43,901.27 860.40,900.51 C867.37,899.74 874.25,898.53 881.10,897.43 C887.95,896.32 894.77,895.11 901.50,893.85 C908.23,892.59 914.75,891.16 921.50,889.87 C928.25,888.58 935.25,887.39 942.00,886.10 C948.75,884.80 955.33,883.63 962.00,882.12 C968.67,880.61 975.40,878.92 982.00,877.05 C988.60,875.18 995.18,873.24 1001.60,870.89 C1008.02,868.54 1014.47,866.04 1020.50,862.94 C1026.53,859.84 1032.43,856.28 1037.80,852.30 C1043.17,848.33 1047.92,843.87 1052.70,839.09 C1057.48,834.30 1062.35,829.26 1066.50,823.58 C1070.65,817.90 1074.05,811.27 1077.60,805.00 C1081.15,798.72 1084.90,792.34 1087.80,785.91 C1090.70,779.49 1092.58,773.09 1095.00,766.43 C1097.42,759.78 1100.05,752.79 1102.30,745.96 C1104.55,739.14 1106.62,732.31 1108.50,725.49 C1110.38,718.66 1111.88,711.84 1113.60,705.01 C1115.32,698.19 1117.25,691.03 1118.80,684.54 C1120.35,678.05 1121.37,672.55 1122.90,666.05 C1124.43,659.56 1126.45,652.07 1128.00,645.58 C1129.55,639.09 1130.75,633.42 1132.20,627.09 C1133.65,620.77 1135.17,614.11 1136.70,607.61 C1138.23,601.12 1139.58,594.61 1141.40,588.14 C1143.22,581.66 1145.02,574.55 1147.60,568.75 C1150.18,562.96 1154.32,556.43 1156.90,553.35 C1159.48,550.27 1160.52,549.24 1163.10,550.27 C1165.68,551.30 1169.65,554.56 1172.40,559.51 C1175.15,564.46 1177.20,573.16 1179.60,579.99 C1182.00,586.81 1184.57,593.63 1186.80,600.46 C1189.03,607.28 1191.12,614.11 1193.00,620.93 C1194.88,627.76 1196.22,634.75 1198.10,641.41 C1199.98,648.07 1202.32,654.46 1204.30,660.89 C1206.28,667.31 1207.92,673.44 1210.00,679.97 C1212.08,686.49 1214.43,693.58 1216.80,700.04 C1219.17,706.50 1221.63,712.43 1224.20,718.73 C1226.77,725.02 1229.35,731.58 1232.20,737.81 C1235.05,744.04 1238.10,750.04 1241.30,756.10 C1244.50,762.16 1247.95,768.55 1251.40,774.19 C1254.85,779.82 1258.23,785.12 1262.00,789.89 C1265.77,794.66 1272.00,800.66 1274.00,802.81" fill="none" stroke="#808080" stroke-width="4.3" stroke-dasharray="7 13.7" stroke-dashoffset="0" stroke-linecap="round"/>
<line x1="1088.90" y1="791.40" x2="1113.90" y2="791.40" stroke="#000" stroke-width="2.2"/>
<polygon points="1111.90,783.60 1140.80,791.40 1111.90,799.20" fill="#000"/>
<rect x="1157.60" y="869.50" width="102.40" height="49.30" fill="#fff" stroke="#000" stroke-width="2.7"/>
<text transform="translate(1162.00,907.50) scale(1,1.04)" font-size="35" font-weight="bold" text-anchor="start" >575 K</text>
<line x1="166.00" y1="1186.50" x2="166.00" y2="1204.50" stroke="#000" stroke-width="3.0"/>
<line x1="166.00" y1="1204.50" x2="166.00" y2="1222.50" stroke="#000" stroke-width="3.0"/>
<path d="M156.00,1186.50H176.00M156.00,1222.50H176.00" stroke="#000" stroke-width="3.0" stroke-linecap="round"/>
<polygon points="166.00,1191.34 177.40,1211.08 154.60,1211.08" fill="#fff" stroke="#000" stroke-width="3.7" stroke-linejoin="round"/>
<line x1="177.00" y1="1192.00" x2="177.00" y2="1207.00" stroke="#000" stroke-width="3.0"/>
<line x1="177.00" y1="1207.00" x2="177.00" y2="1222.00" stroke="#000" stroke-width="3.0"/>
<path d="M167.00,1192.00H187.00M167.00,1222.00H187.00" stroke="#000" stroke-width="3.0" stroke-linecap="round"/>
<polygon points="177.00,1193.84 188.40,1213.58 165.60,1213.58" fill="#fff" stroke="#000" stroke-width="3.7" stroke-linejoin="round"/>
<line x1="189.40" y1="1164.00" x2="189.40" y2="1184.00" stroke="#000" stroke-width="3.0"/>
<line x1="189.40" y1="1184.00" x2="189.40" y2="1204.00" stroke="#000" stroke-width="3.0"/>
<path d="M179.40,1164.00H199.40M179.40,1204.00H199.40" stroke="#000" stroke-width="3.0" stroke-linecap="round"/>
<polygon points="189.40,1170.84 200.80,1190.58 178.00,1190.58" fill="#fff" stroke="#000" stroke-width="3.7" stroke-linejoin="round"/>
<line x1="201.00" y1="1192.00" x2="201.00" y2="1207.00" stroke="#000" stroke-width="3.0"/>
<line x1="201.00" y1="1207.00" x2="201.00" y2="1222.00" stroke="#000" stroke-width="3.0"/>
<path d="M191.00,1192.00H211.00M191.00,1222.00H211.00" stroke="#000" stroke-width="3.0" stroke-linecap="round"/>
<polygon points="201.00,1193.84 212.40,1213.58 189.60,1213.58" fill="#fff" stroke="#000" stroke-width="3.7" stroke-linejoin="round"/>
<line x1="212.70" y1="1181.40" x2="212.70" y2="1199.00" stroke="#000" stroke-width="3.0"/>
<line x1="212.70" y1="1199.00" x2="212.70" y2="1216.60" stroke="#000" stroke-width="3.0"/>
<path d="M202.70,1181.40H222.70M202.70,1216.60H222.70" stroke="#000" stroke-width="3.0" stroke-linecap="round"/>
<polygon points="212.70,1185.84 224.10,1205.58 201.30,1205.58" fill="#fff" stroke="#000" stroke-width="3.7" stroke-linejoin="round"/>
<line x1="189.40" y1="1198.60" x2="189.40" y2="1213.00" stroke="#000" stroke-width="3.0"/>
<line x1="189.40" y1="1213.00" x2="189.40" y2="1227.40" stroke="#000" stroke-width="3.0"/>
<path d="M179.40,1198.60H199.40M179.40,1227.40H199.40" stroke="#000" stroke-width="3.0" stroke-linecap="round"/>
<polygon points="189.40,1199.84 200.80,1219.58 178.00,1219.58" fill="#fff" stroke="#000" stroke-width="3.7" stroke-linejoin="round"/>
<line x1="223.40" y1="1195.20" x2="223.40" y2="1210.00" stroke="#000" stroke-width="3.0"/>
<line x1="223.40" y1="1210.00" x2="223.40" y2="1224.80" stroke="#000" stroke-width="3.0"/>
<path d="M213.40,1195.20H233.40M213.40,1224.80H233.40" stroke="#000" stroke-width="3.0" stroke-linecap="round"/>
<polygon points="223.40,1196.84 234.80,1216.58 212.00,1216.58" fill="#fff" stroke="#000" stroke-width="3.7" stroke-linejoin="round"/>
<line x1="247.00" y1="1081.90" x2="247.00" y2="1100.80" stroke="#000" stroke-width="3.0"/>
<line x1="247.00" y1="1100.80" x2="247.00" y2="1119.70" stroke="#000" stroke-width="3.0"/>
<path d="M237.00,1081.90H257.00M237.00,1119.70H257.00" stroke="#000" stroke-width="3.0" stroke-linecap="round"/>
<polygon points="247.00,1087.64 258.40,1107.38 235.60,1107.38" fill="#fff" stroke="#000" stroke-width="3.7" stroke-linejoin="round"/>
<line x1="260.00" y1="1052.20" x2="260.00" y2="1069.20" stroke="#000" stroke-width="3.0"/>
<line x1="260.00" y1="1069.20" x2="260.00" y2="1086.20" stroke="#000" stroke-width="3.0"/>
<path d="M250.00,1052.20H270.00M250.00,1086.20H270.00" stroke="#000" stroke-width="3.0" stroke-linecap="round"/>
<polygon points="260.00,1056.04 271.40,1075.78 248.60,1075.78" fill="#fff" stroke="#000" stroke-width="3.7" stroke-linejoin="round"/>
<line x1="269.50" y1="1063.40" x2="269.50" y2="1078.00" stroke="#000" stroke-width="3.0"/>
<line x1="269.50" y1="1078.00" x2="269.50" y2="1092.60" stroke="#000" stroke-width="3.0"/>
<path d="M259.50,1063.40H279.50M259.50,1092.60H279.50" stroke="#000" stroke-width="3.0" stroke-linecap="round"/>
<polygon points="269.50,1064.84 280.90,1084.58 258.10,1084.58" fill="#fff" stroke="#000" stroke-width="3.7" stroke-linejoin="round"/>
<line x1="270.80" y1="1092.00" x2="270.80" y2="1100.00" stroke="#000" stroke-width="3.0"/>
<line x1="270.80" y1="1100.00" x2="270.80" y2="1108.00" stroke="#000" stroke-width="3.0"/>
<path d="M260.80,1092.00H280.80M260.80,1108.00H280.80" stroke="#000" stroke-width="3.0" stroke-linecap="round"/>
<polygon points="270.80,1086.84 282.20,1106.58 259.40,1106.58" fill="#fff" stroke="#000" stroke-width="3.7" stroke-linejoin="round"/>
<line x1="276.50" y1="1080.00" x2="276.50" y2="1090.00" stroke="#000" stroke-width="3.0"/>
<line x1="276.50" y1="1090.00" x2="276.50" y2="1100.00" stroke="#000" stroke-width="3.0"/>
<path d="M266.50,1080.00H286.50M266.50,1100.00H286.50" stroke="#000" stroke-width="3.0" stroke-linecap="round"/>
<polygon points="276.50,1076.84 287.90,1096.58 265.10,1096.58" fill="#fff" stroke="#000" stroke-width="3.7" stroke-linejoin="round"/>
<line x1="293.80" y1="1077.00" x2="293.80" y2="1092.00" stroke="#000" stroke-width="3.0"/>
<line x1="293.80" y1="1092.00" x2="293.80" y2="1107.00" stroke="#000" stroke-width="3.0"/>
<path d="M283.80,1077.00H303.80M283.80,1107.00H303.80" stroke="#000" stroke-width="3.0" stroke-linecap="round"/>
<polygon points="293.80,1078.84 305.20,1098.58 282.40,1098.58" fill="#fff" stroke="#000" stroke-width="3.7" stroke-linejoin="round"/>
<line x1="304.50" y1="1086.10" x2="304.50" y2="1101.40" stroke="#000" stroke-width="3.0"/>
<line x1="304.50" y1="1101.40" x2="304.50" y2="1116.70" stroke="#000" stroke-width="3.0"/>
<path d="M294.50,1086.10H314.50M294.50,1116.70H314.50" stroke="#000" stroke-width="3.0" stroke-linecap="round"/>
<polygon points="304.50,1088.24 315.90,1107.98 293.10,1107.98" fill="#fff" stroke="#000" stroke-width="3.7" stroke-linejoin="round"/>
<line x1="333.50" y1="1165.50" x2="333.50" y2="1178.70" stroke="#000" stroke-width="3.0"/>
<line x1="333.50" y1="1178.70" x2="333.50" y2="1191.90" stroke="#000" stroke-width="3.0"/>
<path d="M323.50,1165.50H343.50M323.50,1191.90H343.50" stroke="#000" stroke-width="3.0" stroke-linecap="round"/>
<polygon points="333.50,1165.54 344.90,1185.28 322.10,1185.28" fill="#fff" stroke="#000" stroke-width="3.7" stroke-linejoin="round"/>
<line x1="344.10" y1="1199.10" x2="344.10" y2="1209.70" stroke="#000" stroke-width="3.0"/>
<line x1="344.10" y1="1209.70" x2="344.10" y2="1220.30" stroke="#000" stroke-width="3.0"/>
<path d="M334.10,1199.10H354.10M334.10,1220.30H354.10" stroke="#000" stroke-width="3.0" stroke-linecap="round"/>
<polygon points="344.10,1196.54 355.50,1216.28 332.70,1216.28" fill="#fff" stroke="#000" stroke-width="3.7" stroke-linejoin="round"/>
<line x1="352.80" y1="1200.10" x2="352.80" y2="1211.50" stroke="#000" stroke-width="3.0"/>
<line x1="352.80" y1="1211.50" x2="352.80" y2="1222.90" stroke="#000" stroke-width="3.0"/>
<path d="M342.80,1200.10H362.80M342.80,1222.90H362.80" stroke="#000" stroke-width="3.0" stroke-linecap="round"/>
<polygon points="352.80,1198.34 364.20,1218.08 341.40,1218.08" fill="#fff" stroke="#000" stroke-width="3.7" stroke-linejoin="round"/>
<line x1="358.00" y1="1223.00" x2="358.00" y2="1230.00" stroke="#000" stroke-width="3.0"/>
<line x1="358.00" y1="1230.00" x2="358.00" y2="1237.00" stroke="#000" stroke-width="3.0"/>
<path d="M348.00,1223.00H368.00M348.00,1237.00H368.00" stroke="#000" stroke-width="3.0" stroke-linecap="round"/>
<polygon points="358.00,1216.84 369.40,1236.58 346.60,1236.58" fill="#fff" stroke="#000" stroke-width="3.7" stroke-linejoin="round"/>
<line x1="365.30" y1="1231.00" x2="365.30" y2="1239.00" stroke="#000" stroke-width="3.0"/>
<line x1="365.30" y1="1239.00" x2="365.30" y2="1247.00" stroke="#000" stroke-width="3.0"/>
<path d="M355.30,1231.00H375.30M355.30,1247.00H375.30" stroke="#000" stroke-width="3.0" stroke-linecap="round"/>
<polygon points="365.30,1225.84 376.70,1245.58 353.90,1245.58" fill="#fff" stroke="#000" stroke-width="3.7" stroke-linejoin="round"/>
<line x1="378.30" y1="1222.50" x2="378.30" y2="1231.50" stroke="#000" stroke-width="3.0"/>
<line x1="378.30" y1="1231.50" x2="378.30" y2="1240.50" stroke="#000" stroke-width="3.0"/>
<path d="M368.30,1222.50H388.30M368.30,1240.50H388.30" stroke="#000" stroke-width="3.0" stroke-linecap="round"/>
<polygon points="378.30,1218.34 389.70,1238.08 366.90,1238.08" fill="#fff" stroke="#000" stroke-width="3.7" stroke-linejoin="round"/>
<line x1="376.00" y1="1236.00" x2="376.00" y2="1242.00" stroke="#000" stroke-width="3.0"/>
<line x1="376.00" y1="1242.00" x2="376.00" y2="1248.00" stroke="#000" stroke-width="3.0"/>
<path d="M366.00,1236.00H386.00M366.00,1248.00H386.00" stroke="#000" stroke-width="3.0" stroke-linecap="round"/>
<polygon points="376.00,1228.84 387.40,1248.58 364.60,1248.58" fill="#fff" stroke="#000" stroke-width="3.7" stroke-linejoin="round"/>
<line x1="389.00" y1="1231.00" x2="389.00" y2="1241.00" stroke="#000" stroke-width="3.0"/>
<line x1="389.00" y1="1241.00" x2="389.00" y2="1251.00" stroke="#000" stroke-width="3.0"/>
<path d="M379.00,1231.00H399.00M379.00,1251.00H399.00" stroke="#000" stroke-width="3.0" stroke-linecap="round"/>
<polygon points="389.00,1227.84 400.40,1247.58 377.60,1247.58" fill="#fff" stroke="#000" stroke-width="3.7" stroke-linejoin="round"/>
<line x1="407.20" y1="1259.30" x2="407.20" y2="1269.50" stroke="#000" stroke-width="3.0"/>
<line x1="407.20" y1="1269.50" x2="407.20" y2="1279.70" stroke="#000" stroke-width="3.0"/>
<path d="M397.20,1259.30H417.20M397.20,1279.70H417.20" stroke="#000" stroke-width="3.0" stroke-linecap="round"/>
<polygon points="407.20,1256.34 418.60,1276.08 395.80,1276.08" fill="#fff" stroke="#000" stroke-width="3.7" stroke-linejoin="round"/>
<line x1="417.30" y1="1236.20" x2="417.30" y2="1245.50" stroke="#000" stroke-width="3.0"/>
<line x1="417.30" y1="1245.50" x2="417.30" y2="1254.80" stroke="#000" stroke-width="3.0"/>
<path d="M407.30,1236.20H427.30M407.30,1254.80H427.30" stroke="#000" stroke-width="3.0" stroke-linecap="round"/>
<polygon points="417.30,1232.34 428.70,1252.08 405.90,1252.08" fill="#fff" stroke="#000" stroke-width="3.7" stroke-linejoin="round"/>
<line x1="429.00" y1="1202.00" x2="429.00" y2="1210.00" stroke="#000" stroke-width="3.0"/>
<line x1="429.00" y1="1210.00" x2="429.00" y2="1218.00" stroke="#000" stroke-width="3.0"/>
<path d="M419.00,1202.00H439.00M419.00,1218.00H439.00" stroke="#000" stroke-width="3.0" stroke-linecap="round"/>
<polygon points="429.00,1196.84 440.40,1216.58 417.60,1216.58" fill="#fff" stroke="#000" stroke-width="3.7" stroke-linejoin="round"/>
<line x1="430.60" y1="1217.00" x2="430.60" y2="1224.00" stroke="#000" stroke-width="3.0"/>
<line x1="430.60" y1="1224.00" x2="430.60" y2="1231.00" stroke="#000" stroke-width="3.0"/>
<path d="M420.60,1217.00H440.60M420.60,1231.00H440.60" stroke="#000" stroke-width="3.0" stroke-linecap="round"/>
<polygon points="430.60,1210.84 442.00,1230.58 419.20,1230.58" fill="#fff" stroke="#000" stroke-width="3.7" stroke-linejoin="round"/>
<line x1="444.00" y1="1193.00" x2="444.00" y2="1201.00" stroke="#000" stroke-width="3.0"/>
<line x1="444.00" y1="1201.00" x2="444.00" y2="1209.00" stroke="#000" stroke-width="3.0"/>
<path d="M434.00,1193.00H454.00M434.00,1209.00H454.00" stroke="#000" stroke-width="3.0" stroke-linecap="round"/>
<polygon points="444.00,1187.84 455.40,1207.58 432.60,1207.58" fill="#fff" stroke="#000" stroke-width="3.7" stroke-linejoin="round"/>
<line x1="454.60" y1="1176.00" x2="454.60" y2="1185.00" stroke="#000" stroke-width="3.0"/>
<line x1="454.60" y1="1185.00" x2="454.60" y2="1194.00" stroke="#000" stroke-width="3.0"/>
<path d="M444.60,1176.00H464.60M444.60,1194.00H464.60" stroke="#000" stroke-width="3.0" stroke-linecap="round"/>
<polygon points="454.60,1171.84 466.00,1191.58 443.20,1191.58" fill="#fff" stroke="#000" stroke-width="3.7" stroke-linejoin="round"/>
<line x1="450.30" y1="1150.00" x2="450.30" y2="1158.00" stroke="#000" stroke-width="3.0"/>
<line x1="450.30" y1="1158.00" x2="450.30" y2="1166.00" stroke="#000" stroke-width="3.0"/>
<path d="M440.30,1150.00H460.30M440.30,1166.00H460.30" stroke="#000" stroke-width="3.0" stroke-linecap="round"/>
<polygon points="450.30,1144.84 461.70,1164.58 438.90,1164.58" fill="#fff" stroke="#000" stroke-width="3.7" stroke-linejoin="round"/>
<line x1="464.80" y1="1161.00" x2="464.80" y2="1169.50" stroke="#000" stroke-width="3.0"/>
<line x1="464.80" y1="1169.50" x2="464.80" y2="1178.00" stroke="#000" stroke-width="3.0"/>
<path d="M454.80,1161.00H474.80M454.80,1178.00H474.80" stroke="#000" stroke-width="3.0" stroke-linecap="round"/>
<polygon points="464.80,1156.34 476.20,1176.08 453.40,1176.08" fill="#fff" stroke="#000" stroke-width="3.7" stroke-linejoin="round"/>
<line x1="467.20" y1="1134.00" x2="467.20" y2="1141.00" stroke="#000" stroke-width="3.0"/>
<line x1="467.20" y1="1141.00" x2="467.20" y2="1148.00" stroke="#000" stroke-width="3.0"/>
<path d="M457.20,1134.00H477.20M457.20,1148.00H477.20" stroke="#000" stroke-width="3.0" stroke-linecap="round"/>
<polygon points="467.20,1127.84 478.60,1147.58 455.80,1147.58" fill="#fff" stroke="#000" stroke-width="3.7" stroke-linejoin="round"/>
<line x1="461.90" y1="1116.50" x2="461.90" y2="1123.50" stroke="#000" stroke-width="3.0"/>
<line x1="461.90" y1="1123.50" x2="461.90" y2="1130.50" stroke="#000" stroke-width="3.0"/>
<path d="M451.90,1116.50H471.90M451.90,1130.50H471.90" stroke="#000" stroke-width="3.0" stroke-linecap="round"/>
<polygon points="461.90,1110.34 473.30,1130.08 450.50,1130.08" fill="#fff" stroke="#000" stroke-width="3.7" stroke-linejoin="round"/>
<line x1="487.40" y1="1112.00" x2="487.40" y2="1120.00" stroke="#000" stroke-width="3.0"/>
<line x1="487.40" y1="1120.00" x2="487.40" y2="1128.00" stroke="#000" stroke-width="3.0"/>
<path d="M477.40,1112.00H497.40M477.40,1128.00H497.40" stroke="#000" stroke-width="3.0" stroke-linecap="round"/>
<polygon points="487.40,1106.84 498.80,1126.58 476.00,1126.58" fill="#fff" stroke="#000" stroke-width="3.7" stroke-linejoin="round"/>
<line x1="496.50" y1="1107.00" x2="496.50" y2="1117.00" stroke="#000" stroke-width="3.0"/>
<line x1="496.50" y1="1117.00" x2="496.50" y2="1127.00" stroke="#000" stroke-width="3.0"/>
<path d="M486.50,1107.00H506.50M486.50,1127.00H506.50" stroke="#000" stroke-width="3.0" stroke-linecap="round"/>
<polygon points="496.50,1103.84 507.90,1123.58 485.10,1123.58" fill="#fff" stroke="#000" stroke-width="3.7" stroke-linejoin="round"/>
<line x1="498.90" y1="1129.00" x2="498.90" y2="1136.00" stroke="#000" stroke-width="3.0"/>
<line x1="498.90" y1="1136.00" x2="498.90" y2="1143.00" stroke="#000" stroke-width="3.0"/>
<path d="M488.90,1129.00H508.90M488.90,1143.00H508.90" stroke="#000" stroke-width="3.0" stroke-linecap="round"/>
<polygon points="498.90,1122.84 510.30,1142.58 487.50,1142.58" fill="#fff" stroke="#000" stroke-width="3.7" stroke-linejoin="round"/>
<line x1="506.60" y1="1142.50" x2="506.60" y2="1151.50" stroke="#000" stroke-width="3.0"/>
<line x1="506.60" y1="1151.50" x2="506.60" y2="1160.50" stroke="#000" stroke-width="3.0"/>
<path d="M496.60,1142.50H516.60M496.60,1160.50H516.60" stroke="#000" stroke-width="3.0" stroke-linecap="round"/>
<polygon points="506.60,1138.34 518.00,1158.08 495.20,1158.08" fill="#fff" stroke="#000" stroke-width="3.7" stroke-linejoin="round"/>
<line x1="520.30" y1="1165.90" x2="520.30" y2="1175.50" stroke="#000" stroke-width="3.0"/>
<line x1="520.30" y1="1175.50" x2="520.30" y2="1185.10" stroke="#000" stroke-width="3.0"/>
<path d="M510.30,1165.90H530.30M510.30,1185.10H530.30" stroke="#000" stroke-width="3.0" stroke-linecap="round"/>
<polygon points="520.30,1162.34 531.70,1182.08 508.90,1182.08" fill="#fff" stroke="#000" stroke-width="3.7" stroke-linejoin="round"/>
<line x1="516.20" y1="1171.00" x2="516.20" y2="1179.00" stroke="#000" stroke-width="3.0"/>
<line x1="516.20" y1="1179.00" x2="516.20" y2="1187.00" stroke="#000" stroke-width="3.0"/>
<path d="M506.20,1171.00H526.20M506.20,1187.00H526.20" stroke="#000" stroke-width="3.0" stroke-linecap="round"/>
<polygon points="516.20,1165.84 527.60,1185.58 504.80,1185.58" fill="#fff" stroke="#000" stroke-width="3.7" stroke-linejoin="round"/>
<line x1="530.20" y1="1208.20" x2="530.20" y2="1216.00" stroke="#000" stroke-width="3.0"/>
<line x1="530.20" y1="1216.00" x2="530.20" y2="1223.80" stroke="#000" stroke-width="3.0"/>
<path d="M520.20,1208.20H540.20M520.20,1223.80H540.20" stroke="#000" stroke-width="3.0" stroke-linecap="round"/>
<polygon points="530.20,1202.84 541.60,1222.58 518.80,1222.58" fill="#fff" stroke="#000" stroke-width="3.7" stroke-linejoin="round"/>
<line x1="541.20" y1="1228.70" x2="541.20" y2="1236.70" stroke="#000" stroke-width="3.0"/>
<line x1="541.20" y1="1236.70" x2="541.20" y2="1244.70" stroke="#000" stroke-width="3.0"/>
<path d="M531.20,1228.70H551.20M531.20,1244.70H551.20" stroke="#000" stroke-width="3.0" stroke-linecap="round"/>
<polygon points="541.20,1223.54 552.60,1243.28 529.80,1243.28" fill="#fff" stroke="#000" stroke-width="3.7" stroke-linejoin="round"/>
<line x1="551.10" y1="1269.80" x2="551.10" y2="1277.00" stroke="#000" stroke-width="3.0"/>
<line x1="551.10" y1="1277.00" x2="551.10" y2="1284.20" stroke="#000" stroke-width="3.0"/>
<path d="M541.10,1269.80H561.10M541.10,1284.20H561.10" stroke="#000" stroke-width="3.0" stroke-linecap="round"/>
<polygon points="551.10,1263.84 562.50,1283.58 539.70,1283.58" fill="#fff" stroke="#000" stroke-width="3.7" stroke-linejoin="round"/>
<path d="M124.50,1332.88 C128.25,1332.41 140.25,1330.86 147.00,1330.06 C153.75,1329.25 158.58,1328.90 165.00,1328.04 C171.42,1327.18 178.75,1326.04 185.50,1324.89 C192.25,1323.73 199.00,1322.48 205.50,1321.13 C212.00,1319.77 218.17,1318.38 224.50,1316.76 C230.83,1315.14 237.42,1313.24 243.50,1311.39 C249.58,1309.54 254.75,1307.55 261.00,1305.68 C267.25,1303.81 273.90,1301.71 281.00,1300.18 C288.10,1298.64 296.77,1297.57 303.60,1296.48 C310.43,1295.40 315.68,1294.74 322.00,1293.66 C328.32,1292.59 335.05,1291.54 341.50,1290.04 C347.95,1288.54 354.73,1286.84 360.70,1284.67 C366.67,1282.50 372.42,1279.63 377.30,1277.01 C382.18,1274.39 385.55,1272.65 390.00,1268.95 C394.45,1265.26 400.08,1259.22 404.00,1254.85 C407.92,1250.49 410.50,1246.98 413.50,1242.77 C416.50,1238.56 419.53,1233.97 422.00,1229.61 C424.47,1225.24 426.17,1220.99 428.30,1216.58 C430.43,1212.17 432.80,1207.63 434.80,1203.15 C436.80,1198.68 438.40,1194.20 440.30,1189.72 C442.20,1185.25 444.30,1180.77 446.20,1176.30 C448.10,1171.82 449.93,1167.29 451.70,1162.87 C453.47,1158.45 454.97,1154.23 456.80,1149.77 C458.63,1145.32 460.58,1140.56 462.70,1136.14 C464.82,1131.72 466.95,1127.08 469.50,1123.25 C472.05,1119.42 475.00,1115.36 478.00,1113.18 C481.00,1111.00 484.67,1109.26 487.50,1110.16 C490.33,1111.05 492.42,1114.99 495.00,1118.55 C497.58,1122.11 500.60,1127.08 503.00,1131.51 C505.40,1135.94 507.23,1140.70 509.40,1145.14 C511.57,1149.58 513.93,1153.81 516.00,1158.17 C518.07,1162.52 519.87,1166.81 521.80,1171.26 C523.73,1175.71 525.53,1180.47 527.60,1184.89 C529.67,1189.31 531.83,1193.47 534.20,1197.78 C536.57,1202.09 539.28,1206.43 541.80,1210.74 C544.32,1215.05 546.57,1219.41 549.30,1223.63 C552.03,1227.85 554.93,1232.01 558.20,1236.05 C561.47,1240.09 565.05,1244.10 568.90,1247.87 C572.75,1251.64 576.87,1255.25 581.30,1258.68 C585.73,1262.12 592.22,1266.32 595.50,1268.48 C598.78,1270.64 600.08,1271.11 601.00,1271.64" fill="none" stroke="#808080" stroke-width="4.3" stroke-dasharray="7 13.7" stroke-dashoffset="0" stroke-linecap="round"/>
<line x1="548.90" y1="1218.30" x2="574.60" y2="1218.30" stroke="#000" stroke-width="2.2"/>
<polygon points="572.60,1210.10 599.50,1218.30 572.60,1226.50" fill="#000"/>
<rect x="479.10" y="1288.80" width="103.10" height="49.90" fill="#fff" stroke="#000" stroke-width="2.7"/>
<text transform="translate(484.50,1326.20) scale(1,1.04)" font-size="35" font-weight="bold" text-anchor="start" >515 K</text>
<rect x="504.84" y="1321.26" width="7.25" height="6.04" fill="#fff"/>
<rect x="516.95" y="1321.26" width="6.09" height="6.04" fill="#fff"/>
<line x1="861.80" y1="934.50" x2="861.80" y2="1135.30" stroke="#ff0000" stroke-width="3.0"/>
<path d="M851.80,1135.30H871.80" stroke="#ff0000" stroke-width="3.0" stroke-linecap="round"/>
<polygon points="861.80,946.24 873.20,965.98 850.40,965.98" fill="#fff" stroke="#ff0000" stroke-width="3.7" stroke-linejoin="round"/>
<line x1="944.10" y1="1079.00" x2="944.10" y2="1145.00" stroke="#ff0000" stroke-width="3.0"/>
<line x1="944.10" y1="1145.00" x2="944.10" y2="1211.00" stroke="#ff0000" stroke-width="3.0"/>
<path d="M934.10,1079.00H954.10M934.10,1211.00H954.10" stroke="#ff0000" stroke-width="3.0" stroke-linecap="round"/>
<polygon points="944.10,1131.84 955.50,1151.58 932.70,1151.58" fill="#fff" stroke="#ff0000" stroke-width="3.7" stroke-linejoin="round"/>
<line x1="974.20" y1="1151.80" x2="974.20" y2="1192.00" stroke="#ff0000" stroke-width="3.0"/>
<line x1="974.20" y1="1192.00" x2="974.20" y2="1232.20" stroke="#ff0000" stroke-width="3.0"/>
<path d="M964.20,1151.80H984.20M964.20,1232.20H984.20" stroke="#ff0000" stroke-width="3.0" stroke-linecap="round"/>
<polygon points="974.20,1178.84 985.60,1198.58 962.80,1198.58" fill="#fff" stroke="#ff0000" stroke-width="3.7" stroke-linejoin="round"/>
<line x1="1029.10" y1="1237.60" x2="1029.10" y2="1265.00" stroke="#ff0000" stroke-width="3.0"/>
<line x1="1029.10" y1="1265.00" x2="1029.10" y2="1292.40" stroke="#ff0000" stroke-width="3.0"/>
<path d="M1019.10,1237.60H1039.10M1019.10,1292.40H1039.10" stroke="#ff0000" stroke-width="3.0" stroke-linecap="round"/>
<polygon points="1029.10,1251.84 1040.50,1271.58 1017.70,1271.58" fill="#fff" stroke="#ff0000" stroke-width="3.7" stroke-linejoin="round"/>
<line x1="1079.50" y1="1255.40" x2="1079.50" y2="1301.60" stroke="#ff0000" stroke-width="3.0"/>
<line x1="1079.50" y1="1301.60" x2="1079.50" y2="1347.80" stroke="#ff0000" stroke-width="3.0"/>
<path d="M1069.50,1255.40H1089.50M1069.50,1347.80H1089.50" stroke="#ff0000" stroke-width="3.0" stroke-linecap="round"/>
<polygon points="1079.50,1288.44 1090.90,1308.18 1068.10,1308.18" fill="#fff" stroke="#ff0000" stroke-width="3.7" stroke-linejoin="round"/>
<line x1="1091.00" y1="1153.70" x2="1091.00" y2="1187.20" stroke="#ff0000" stroke-width="3.0"/>
<line x1="1091.00" y1="1187.20" x2="1091.00" y2="1220.70" stroke="#ff0000" stroke-width="3.0"/>
<path d="M1081.00,1153.70H1101.00M1081.00,1220.70H1101.00" stroke="#ff0000" stroke-width="3.0" stroke-linecap="round"/>
<polygon points="1091.00,1174.04 1102.40,1193.78 1079.60,1193.78" fill="#fff" stroke="#ff0000" stroke-width="3.7" stroke-linejoin="round"/>
<line x1="1102.60" y1="1211.50" x2="1102.60" y2="1224.50" stroke="#ff0000" stroke-width="3.0"/>
<line x1="1102.60" y1="1224.50" x2="1102.60" y2="1237.50" stroke="#ff0000" stroke-width="3.0"/>
<path d="M1092.60,1211.50H1112.60M1092.60,1237.50H1112.60" stroke="#ff0000" stroke-width="3.0" stroke-linecap="round"/>
<polygon points="1102.60,1211.34 1114.00,1231.08 1091.20,1231.08" fill="#fff" stroke="#ff0000" stroke-width="3.7" stroke-linejoin="round"/>
<line x1="1102.30" y1="1081.10" x2="1102.30" y2="1117.90" stroke="#ff0000" stroke-width="3.0"/>
<line x1="1102.30" y1="1117.90" x2="1102.30" y2="1154.70" stroke="#ff0000" stroke-width="3.0"/>
<path d="M1092.30,1081.10H1112.30M1092.30,1154.70H1112.30" stroke="#ff0000" stroke-width="3.0" stroke-linecap="round"/>
<polygon points="1102.30,1104.74 1113.70,1124.48 1090.90,1124.48" fill="#fff" stroke="#ff0000" stroke-width="3.7" stroke-linejoin="round"/>
<line x1="1113.40" y1="1082.00" x2="1113.40" y2="1127.00" stroke="#ff0000" stroke-width="3.0"/>
<line x1="1113.40" y1="1127.00" x2="1113.40" y2="1172.00" stroke="#ff0000" stroke-width="3.0"/>
<path d="M1103.40,1082.00H1123.40M1103.40,1172.00H1123.40" stroke="#ff0000" stroke-width="3.0" stroke-linecap="round"/>
<polygon points="1113.40,1113.84 1124.80,1133.58 1102.00,1133.58" fill="#fff" stroke="#ff0000" stroke-width="3.7" stroke-linejoin="round"/>
<line x1="1124.60" y1="1012.40" x2="1124.60" y2="1054.70" stroke="#ff0000" stroke-width="3.0"/>
<line x1="1124.60" y1="1054.70" x2="1124.60" y2="1097.00" stroke="#ff0000" stroke-width="3.0"/>
<path d="M1114.60,1012.40H1134.60M1114.60,1097.00H1134.60" stroke="#ff0000" stroke-width="3.0" stroke-linecap="round"/>
<polygon points="1124.60,1041.54 1136.00,1061.28 1113.20,1061.28" fill="#fff" stroke="#ff0000" stroke-width="3.7" stroke-linejoin="round"/>
<line x1="1129.50" y1="1138.00" x2="1129.50" y2="1153.00" stroke="#ff0000" stroke-width="3.0"/>
<line x1="1129.50" y1="1153.00" x2="1129.50" y2="1168.00" stroke="#ff0000" stroke-width="3.0"/>
<path d="M1119.50,1138.00H1139.50M1119.50,1168.00H1139.50" stroke="#ff0000" stroke-width="3.0" stroke-linecap="round"/>
<polygon points="1129.50,1139.84 1140.90,1159.58 1118.10,1159.58" fill="#fff" stroke="#ff0000" stroke-width="3.7" stroke-linejoin="round"/>
<line x1="1135.70" y1="1082.00" x2="1135.70" y2="1113.00" stroke="#ff0000" stroke-width="3.0"/>
<line x1="1135.70" y1="1113.00" x2="1135.70" y2="1144.00" stroke="#ff0000" stroke-width="3.0"/>
<path d="M1125.70,1082.00H1145.70M1125.70,1144.00H1145.70" stroke="#ff0000" stroke-width="3.0" stroke-linecap="round"/>
<polygon points="1135.70,1099.84 1147.10,1119.58 1124.30,1119.58" fill="#fff" stroke="#ff0000" stroke-width="3.7" stroke-linejoin="round"/>
<line x1="1147.00" y1="1107.00" x2="1147.00" y2="1127.00" stroke="#ff0000" stroke-width="3.0"/>
<line x1="1147.00" y1="1127.00" x2="1147.00" y2="1147.00" stroke="#ff0000" stroke-width="3.0"/>
<path d="M1137.00,1107.00H1157.00M1137.00,1147.00H1157.00" stroke="#ff0000" stroke-width="3.0" stroke-linecap="round"/>
<polygon points="1147.00,1113.84 1158.40,1133.58 1135.60,1133.58" fill="#fff" stroke="#ff0000" stroke-width="3.7" stroke-linejoin="round"/>
<line x1="1161.70" y1="1090.90" x2="1161.70" y2="1117.90" stroke="#ff0000" stroke-width="3.0"/>
<line x1="1161.70" y1="1117.90" x2="1161.70" y2="1144.90" stroke="#ff0000" stroke-width="3.0"/>
<path d="M1151.70,1090.90H1171.70M1151.70,1144.90H1171.70" stroke="#ff0000" stroke-width="3.0" stroke-linecap="round"/>
<polygon points="1161.70,1104.74 1173.10,1124.48 1150.30,1124.48" fill="#fff" stroke="#ff0000" stroke-width="3.7" stroke-linejoin="round"/>
<line x1="1177.00" y1="1095.00" x2="1177.00" y2="1128.00" stroke="#ff0000" stroke-width="3.0"/>
<line x1="1177.00" y1="1128.00" x2="1177.00" y2="1161.00" stroke="#ff0000" stroke-width="3.0"/>
<path d="M1167.00,1095.00H1187.00M1167.00,1161.00H1187.00" stroke="#ff0000" stroke-width="3.0" stroke-linecap="round"/>
<polygon points="1177.00,1114.84 1188.40,1134.58 1165.60,1134.58" fill="#fff" stroke="#ff0000" stroke-width="3.7" stroke-linejoin="round"/>
<line x1="1193.40" y1="1202.50" x2="1193.40" y2="1226.00" stroke="#ff0000" stroke-width="3.0"/>
<line x1="1193.40" y1="1226.00" x2="1193.40" y2="1249.50" stroke="#ff0000" stroke-width="3.0"/>
<path d="M1183.40,1202.50H1203.40M1183.40,1249.50H1203.40" stroke="#ff0000" stroke-width="3.0" stroke-linecap="round"/>
<polygon points="1193.40,1212.84 1204.80,1232.58 1182.00,1232.58" fill="#fff" stroke="#ff0000" stroke-width="3.7" stroke-linejoin="round"/>
<line x1="1193.40" y1="1254.20" x2="1193.40" y2="1261.20" stroke="#ff0000" stroke-width="3.0"/>
<line x1="1193.40" y1="1261.20" x2="1193.40" y2="1268.20" stroke="#ff0000" stroke-width="3.0"/>
<path d="M1183.40,1254.20H1203.40M1183.40,1268.20H1203.40" stroke="#ff0000" stroke-width="3.0" stroke-linecap="round"/>
<polygon points="1193.40,1248.04 1204.80,1267.78 1182.00,1267.78" fill="#fff" stroke="#ff0000" stroke-width="3.7" stroke-linejoin="round"/>
<line x1="1203.70" y1="1102.70" x2="1203.70" y2="1147.00" stroke="#ff0000" stroke-width="3.0"/>
<line x1="1203.70" y1="1147.00" x2="1203.70" y2="1191.30" stroke="#ff0000" stroke-width="3.0"/>
<path d="M1193.70,1102.70H1213.70M1193.70,1191.30H1213.70" stroke="#ff0000" stroke-width="3.0" stroke-linecap="round"/>
<polygon points="1203.70,1133.84 1215.10,1153.58 1192.30,1153.58" fill="#fff" stroke="#ff0000" stroke-width="3.7" stroke-linejoin="round"/>
<line x1="1214.00" y1="1123.00" x2="1214.00" y2="1176.00" stroke="#ff0000" stroke-width="3.0"/>
<line x1="1214.00" y1="1176.00" x2="1214.00" y2="1229.00" stroke="#ff0000" stroke-width="3.0"/>
<path d="M1204.00,1123.00H1224.00M1204.00,1229.00H1224.00" stroke="#ff0000" stroke-width="3.0" stroke-linecap="round"/>
<polygon points="1214.00,1162.84 1225.40,1182.58 1202.60,1182.58" fill="#fff" stroke="#ff0000" stroke-width="3.7" stroke-linejoin="round"/>
<line x1="1227.70" y1="1096.00" x2="1227.70" y2="1159.00" stroke="#ff0000" stroke-width="3.0"/>
<line x1="1227.70" y1="1159.00" x2="1227.70" y2="1222.00" stroke="#ff0000" stroke-width="3.0"/>
<path d="M1217.70,1096.00H1237.70M1217.70,1222.00H1237.70" stroke="#ff0000" stroke-width="3.0" stroke-linecap="round"/>
<polygon points="1227.70,1145.84 1239.10,1165.58 1216.30,1165.58" fill="#fff" stroke="#ff0000" stroke-width="3.7" stroke-linejoin="round"/>
<path d="M797.60,1333.61 C801.02,1333.54 811.15,1333.42 818.10,1333.14 C825.05,1332.86 832.25,1332.31 839.30,1331.94 C846.35,1331.57 853.43,1331.44 860.40,1330.93 C867.37,1330.41 874.25,1329.60 881.10,1328.85 C887.95,1328.10 894.77,1327.28 901.50,1326.43 C908.23,1325.58 914.75,1324.62 921.50,1323.74 C928.25,1322.87 935.25,1322.07 942.00,1321.19 C948.75,1320.32 955.33,1319.53 962.00,1318.51 C968.67,1317.49 975.40,1316.35 982.00,1315.08 C988.60,1313.82 995.18,1312.51 1001.60,1310.92 C1008.02,1309.33 1014.47,1307.64 1020.50,1305.55 C1026.53,1303.46 1032.43,1301.05 1037.80,1298.36 C1043.17,1295.68 1047.92,1292.67 1052.70,1289.43 C1057.48,1286.20 1062.35,1282.80 1066.50,1278.96 C1070.65,1275.12 1074.05,1270.64 1077.60,1266.40 C1081.15,1262.16 1084.90,1257.85 1087.80,1253.51 C1090.70,1249.17 1092.58,1244.85 1095.00,1240.35 C1097.42,1235.85 1100.05,1231.13 1102.30,1226.52 C1104.55,1221.91 1106.62,1217.30 1108.50,1212.69 C1110.38,1208.08 1111.88,1203.47 1113.60,1198.86 C1115.32,1194.25 1117.25,1189.41 1118.80,1185.02 C1120.35,1180.64 1121.37,1176.92 1122.90,1172.54 C1124.43,1168.15 1126.45,1163.09 1128.00,1158.70 C1129.55,1154.32 1130.75,1150.49 1132.20,1146.22 C1133.65,1141.94 1135.17,1137.44 1136.70,1133.06 C1138.23,1128.67 1139.58,1124.27 1141.40,1119.89 C1143.22,1115.52 1145.02,1110.72 1147.60,1106.80 C1150.18,1102.88 1154.32,1098.48 1156.90,1096.39 C1159.48,1094.31 1160.52,1093.62 1163.10,1094.31 C1165.68,1095.01 1169.65,1097.21 1172.40,1100.56 C1175.15,1103.90 1177.20,1109.78 1179.60,1114.39 C1182.00,1119.00 1184.57,1123.61 1186.80,1128.22 C1189.03,1132.83 1191.12,1137.44 1193.00,1142.05 C1194.88,1146.66 1196.22,1151.39 1198.10,1155.88 C1199.98,1160.38 1202.32,1164.70 1204.30,1169.04 C1206.28,1173.39 1207.92,1177.53 1210.00,1181.94 C1212.08,1186.35 1214.43,1191.13 1216.80,1195.50 C1219.17,1199.86 1221.63,1203.87 1224.20,1208.12 C1226.77,1212.37 1229.35,1216.81 1232.20,1221.01 C1235.05,1225.22 1238.10,1229.27 1241.30,1233.37 C1244.50,1237.46 1247.95,1241.78 1251.40,1245.59 C1254.85,1249.39 1258.23,1252.97 1262.00,1256.20 C1265.77,1259.42 1272.00,1263.47 1274.00,1264.93" fill="none" stroke="#808080" stroke-width="4.3" stroke-dasharray="7 13.7" stroke-dashoffset="0" stroke-linecap="round"/>
<line x1="1233.00" y1="1222.60" x2="1248.80" y2="1222.60" stroke="#000" stroke-width="2.2"/>
<polygon points="1246.80,1214.30 1273.70,1222.60 1246.80,1230.90" fill="#000"/>
<rect x="1153.70" y="1290.50" width="102.90" height="49.50" fill="#fff" stroke="#000" stroke-width="2.7"/>
<text transform="translate(1158.50,1328.20) scale(1,1.04)" font-size="35" font-weight="bold" text-anchor="start" >575 K</text>
<line x1="534.00" y1="284.80" x2="559.60" y2="284.80" stroke="#000" stroke-width="2.2"/>
<polygon points="557.60,276.30 586.60,284.80 557.60,293.30" fill="#000"/>
<text x="131.00" y="144.00" font-weight="bold"><tspan font-size="39">a</tspan><tspan font-size="46">)</tspan></text>
<text font-weight="bold" font-style="italic"><tspan x="172.00" y="144.80" font-size="39">Pt</tspan><tspan x="211.00" y="158.80" font-size="23.5">42.5</tspan><tspan x="254.00" y="144.80" font-size="39">Cu</tspan><tspan x="307.00" y="158.80" font-size="23.5">27</tspan><tspan x="328.00" y="144.80" font-size="39">Ni</tspan><tspan x="369.00" y="158.80" font-size="23.5">9.5</tspan><tspan x="399.50" y="144.80" font-size="39">P</tspan><tspan x="427.00" y="158.80" font-size="23.5">21</tspan></text>
<polygon points="439.60,155.63 444.86,155.63 444.18,159.80 439.36,159.80" fill="#fff"/>
<polygon points="448.13,155.63 453.23,155.63 453.23,159.80 447.44,159.80" fill="#fff"/>
<text x="810.00" y="140.00" font-weight="bold"><tspan font-size="38">b</tspan><tspan font-size="38">)</tspan></text>
<text font-weight="bold" font-style="italic"><tspan x="844.00" y="143.70" font-size="39">Pd</tspan><tspan x="893.50" y="157.70" font-size="23.5">42.5</tspan><tspan x="936.50" y="143.70" font-size="39">Cu</tspan><tspan x="990.00" y="157.70" font-size="23.5">27</tspan><tspan x="1012.00" y="143.70" font-size="39">Ni</tspan><tspan x="1051.50" y="157.70" font-size="23.5">9.5</tspan><tspan x="1083.50" y="143.70" font-size="39">P</tspan><tspan x="1110.00" y="157.70" font-size="23.5">21</tspan></text>
<polygon points="1122.60,154.53 1127.86,154.53 1127.18,158.70 1122.36,158.70" fill="#fff"/>
<polygon points="1131.13,154.53 1136.23,154.53 1136.23,158.70 1130.44,158.70" fill="#fff"/>
<text x="132.50" y="561.50" font-weight="bold"><tspan font-size="39">c</tspan><tspan font-size="40">)</tspan></text>
<text x="809.50" y="560.00" font-weight="bold"><tspan font-size="38">d</tspan><tspan font-size="38">)</tspan></text>
<text x="132.00" y="980.00" font-weight="bold"><tspan font-size="39">e</tspan><tspan font-size="40">)</tspan></text>
<text x="812.50" y="978.20" font-weight="bold"><tspan font-size="38">f</tspan><tspan font-size="38">)</tspan></text>
<rect x="477.30" y="453.00" width="102.80" height="49.50" fill="#fff" stroke="#000" stroke-width="2.7"/>
<text transform="translate(482.00,490.30) scale(1,1.04)" font-size="35" font-weight="bold" text-anchor="start" >515 K</text>
<rect x="502.34" y="485.36" width="7.25" height="6.04" fill="#fff"/>
<rect x="514.45" y="485.36" width="6.09" height="6.04" fill="#fff"/>
</svg></body></html>
